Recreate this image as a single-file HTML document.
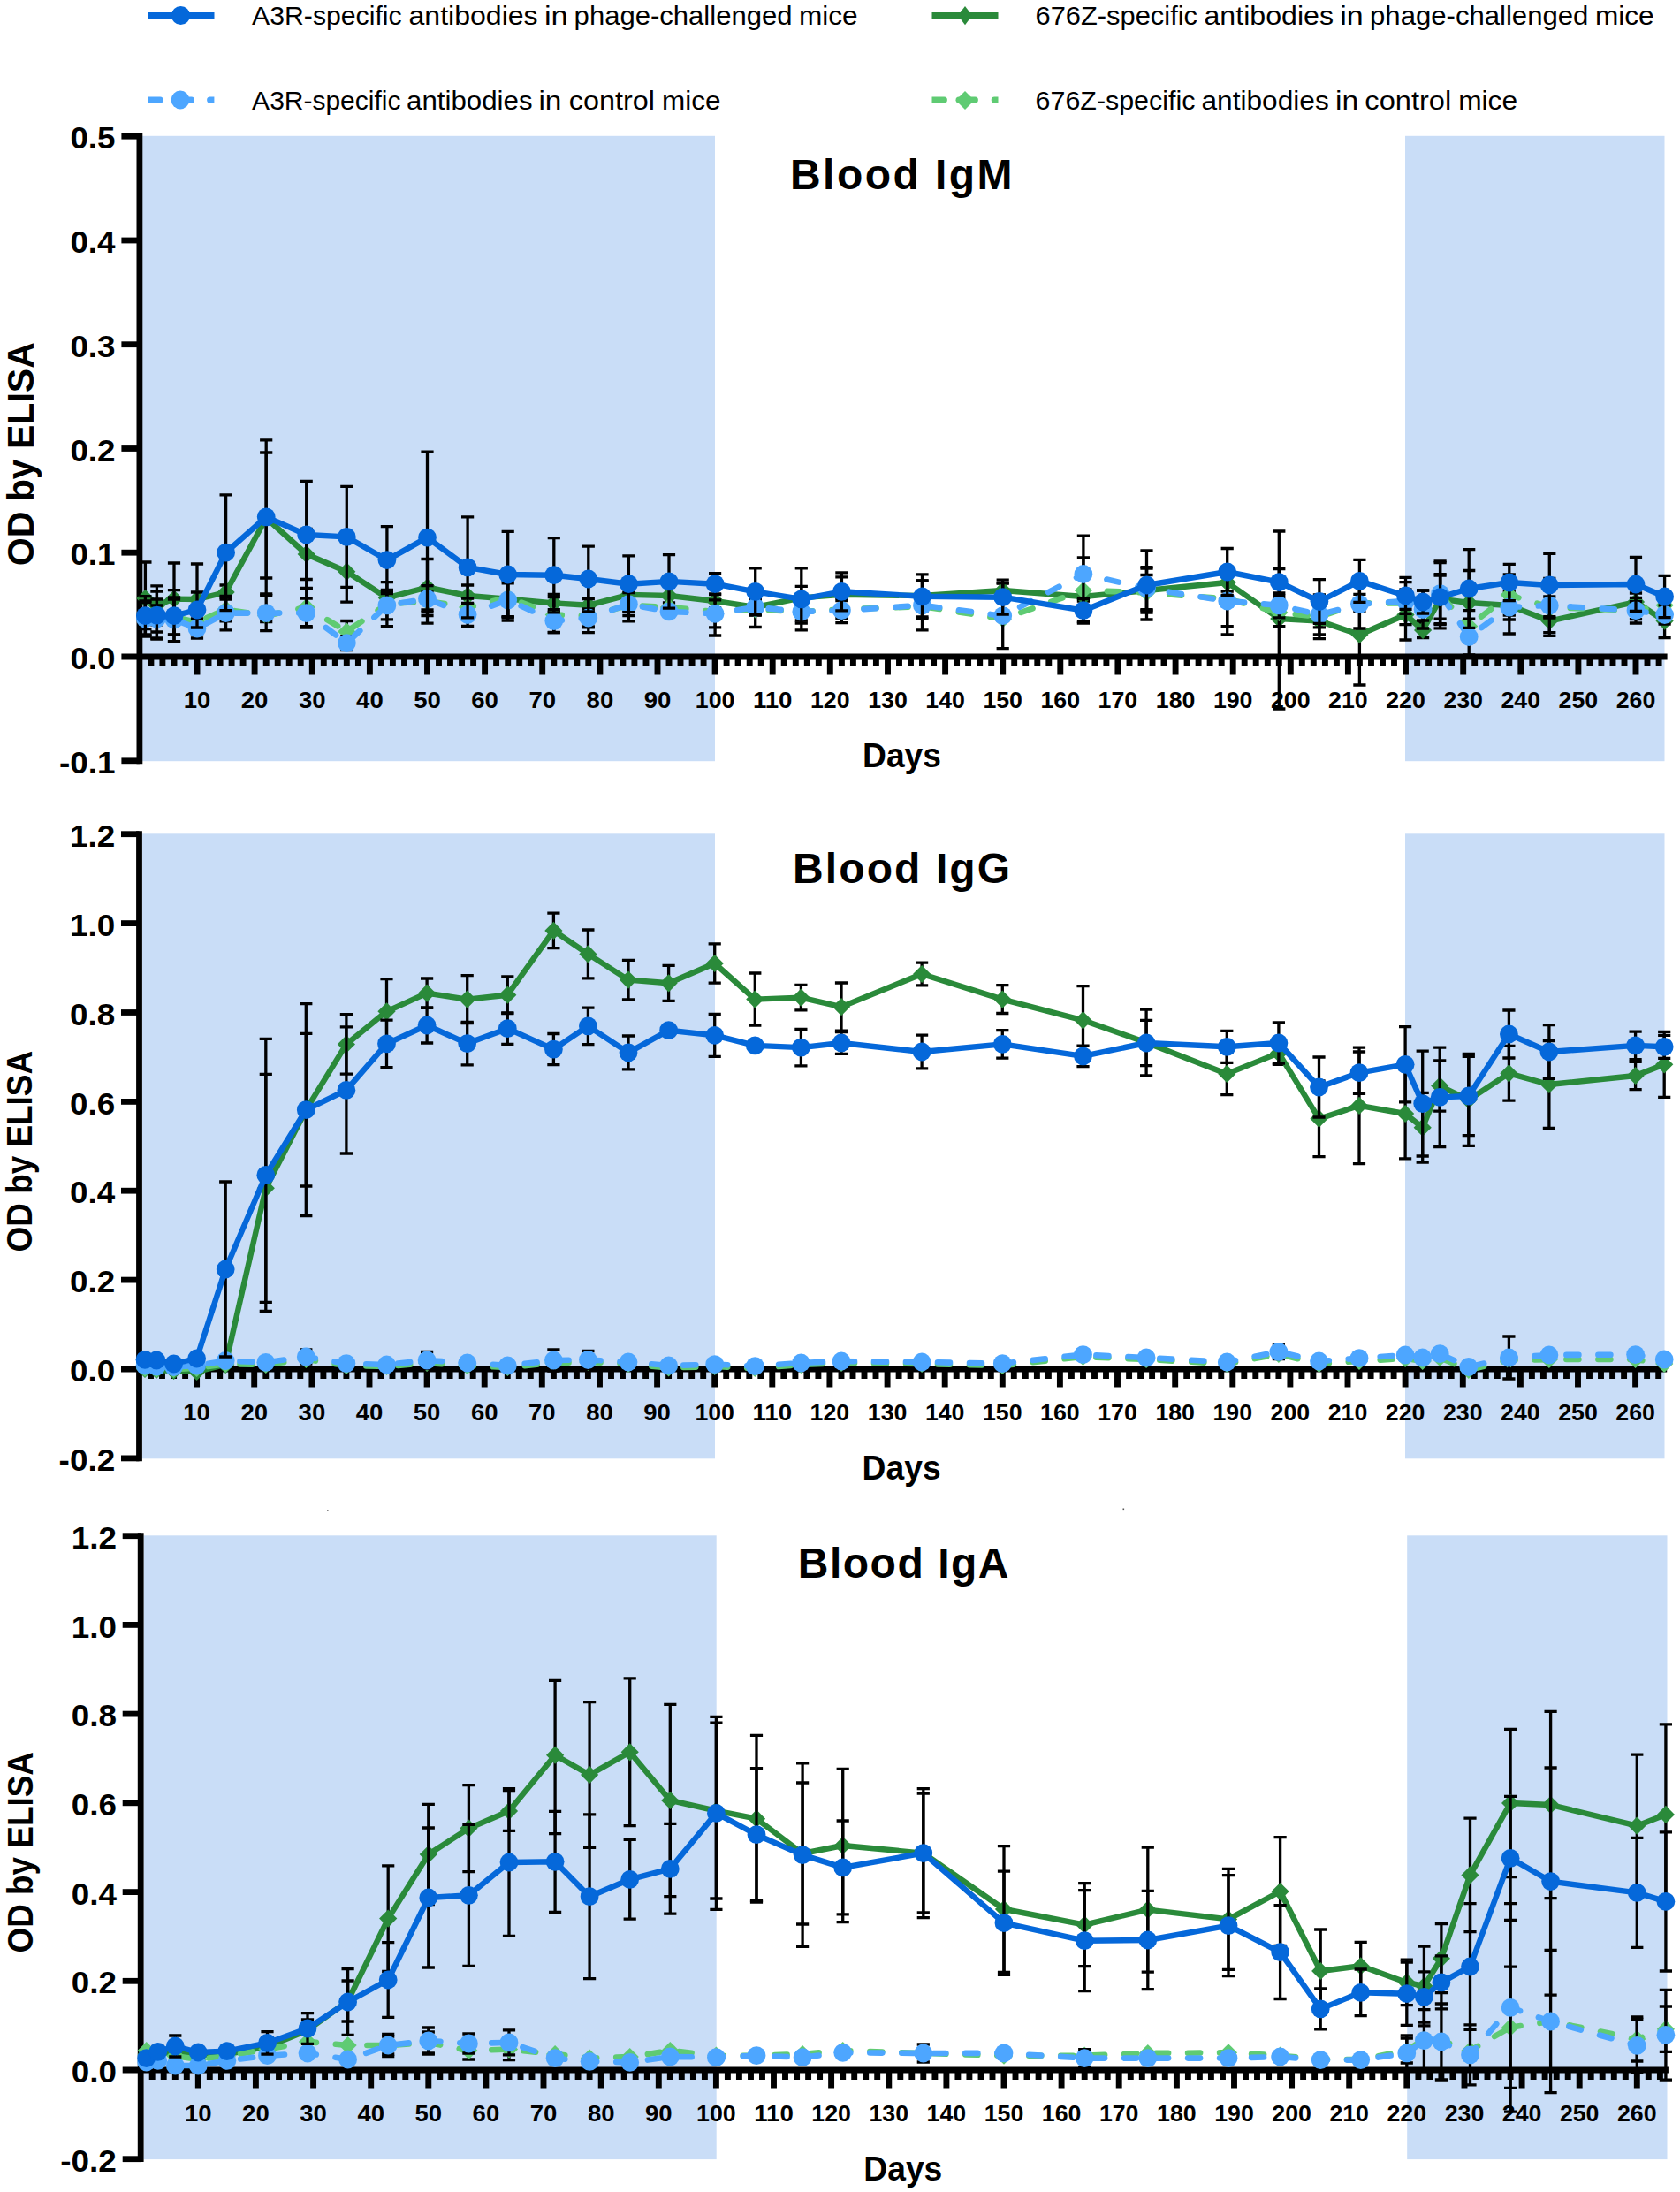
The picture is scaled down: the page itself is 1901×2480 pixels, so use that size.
<!DOCTYPE html>
<html lang="en"><head><meta charset="utf-8"><title>Blood IgM, IgG and IgA</title><style>html,body{margin:0;padding:0;background:#fff}svg{display:block}</style></head><body>
<svg width="1901" height="2480" viewBox="0 0 1901 2480">
<rect width="1901" height="2480" fill="#fff"/>
<line x1="167" y1="17.5" x2="242.5" y2="17.5" stroke="#0568da" stroke-width="7"/>
<circle cx="204.5" cy="17.5" r="10.5" fill="#0568da"/>
<clipPath id="lc1"><rect x="167" y="100" width="75.4" height="26"/></clipPath>
<path clip-path="url(#lc1)" d="M160 113H181.2M198 113H216.6M237.6 113H260" stroke="#4da6ff" stroke-width="7" stroke-linecap="round"/>
<circle cx="204" cy="113" r="10.4" fill="#4da6ff"/>
<line x1="1054.5" y1="17.5" x2="1129.5" y2="17.5" stroke="#2a8a3a" stroke-width="7"/>
<path d="M1092 7L1100 17.6L1092 28.2L1084 17.6Z" fill="#2a8a3a"/>
<clipPath id="lc2"><rect x="1054.5" y="100" width="75" height="26"/></clipPath>
<path clip-path="url(#lc2)" d="M1047 113H1068.4M1085 113H1103.4M1125.2 113H1150" stroke="#5fcb73" stroke-width="7" stroke-linecap="round"/>
<path d="M1092 102.9L1102.5 113.4L1092 123.9L1081.5 113.4Z" fill="#5fcb73"/>
<text x="285.1" y="27.5" font-family="Liberation Sans, sans-serif" font-size="28.8" textLength="169.53" lengthAdjust="spacingAndGlyphs">A3R-specific</text>
<text x="462.51" y="27.5" font-family="Liberation Sans, sans-serif" font-size="28.8" textLength="146.15" lengthAdjust="spacingAndGlyphs">antibodies</text>
<text x="615.91" y="27.5" font-family="Liberation Sans, sans-serif" font-size="28.8" textLength="26.77" lengthAdjust="spacingAndGlyphs">in</text>
<text x="649.62" y="27.5" font-family="Liberation Sans, sans-serif" font-size="28.8" textLength="246.88" lengthAdjust="spacingAndGlyphs">phage-challenged</text>
<text x="903.93" y="27.5" font-family="Liberation Sans, sans-serif" font-size="28.8" textLength="66.76" lengthAdjust="spacingAndGlyphs">mice</text>
<text x="285.13" y="123.5" font-family="Liberation Sans, sans-serif" font-size="28.8" textLength="168.32" lengthAdjust="spacingAndGlyphs">A3R-specific</text>
<text x="460.13" y="123.5" font-family="Liberation Sans, sans-serif" font-size="28.8" textLength="142.44" lengthAdjust="spacingAndGlyphs">antibodies</text>
<text x="609.43" y="123.5" font-family="Liberation Sans, sans-serif" font-size="28.8" textLength="26.06" lengthAdjust="spacingAndGlyphs">in</text>
<text x="643.88" y="123.5" font-family="Liberation Sans, sans-serif" font-size="28.8" textLength="97.13" lengthAdjust="spacingAndGlyphs">control</text>
<text x="749" y="123.5" font-family="Liberation Sans, sans-serif" font-size="28.8" textLength="66.43" lengthAdjust="spacingAndGlyphs">mice</text>
<text x="1171.52" y="27.5" font-family="Liberation Sans, sans-serif" font-size="28.8" textLength="183.47" lengthAdjust="spacingAndGlyphs">676Z-specific</text>
<text x="1362.49" y="27.5" font-family="Liberation Sans, sans-serif" font-size="28.8" textLength="146.51" lengthAdjust="spacingAndGlyphs">antibodies</text>
<text x="1516.3" y="27.5" font-family="Liberation Sans, sans-serif" font-size="28.8" textLength="26.43" lengthAdjust="spacingAndGlyphs">in</text>
<text x="1550.08" y="27.5" font-family="Liberation Sans, sans-serif" font-size="28.8" textLength="247.27" lengthAdjust="spacingAndGlyphs">phage-challenged</text>
<text x="1804.93" y="27.5" font-family="Liberation Sans, sans-serif" font-size="28.8" textLength="66.76" lengthAdjust="spacingAndGlyphs">mice</text>
<text x="1171.63" y="123.5" font-family="Liberation Sans, sans-serif" font-size="28.8" textLength="180.74" lengthAdjust="spacingAndGlyphs">676Z-specific</text>
<text x="1359.5" y="123.5" font-family="Liberation Sans, sans-serif" font-size="28.8" textLength="144.28" lengthAdjust="spacingAndGlyphs">antibodies</text>
<text x="1510.95" y="123.5" font-family="Liberation Sans, sans-serif" font-size="28.8" textLength="26.22" lengthAdjust="spacingAndGlyphs">in</text>
<text x="1544.38" y="123.5" font-family="Liberation Sans, sans-serif" font-size="28.8" textLength="97.85" lengthAdjust="spacingAndGlyphs">control</text>
<text x="1650.2" y="123.5" font-family="Liberation Sans, sans-serif" font-size="28.8" textLength="66.82" lengthAdjust="spacingAndGlyphs">mice</text>
<rect x="161" y="153.8" width="648" height="707.4" fill="#c9ddf7"/>
<rect x="1590" y="153.8" width="293.5" height="707.4" fill="#c9ddf7"/>
<text x="894" y="214" font-family="Liberation Sans, sans-serif" font-weight="bold" font-size="48" textLength="251.5" lengthAdjust="spacing">Blood IgM</text>
<line x1="157.9" y1="150.8" x2="157.9" y2="864.2" stroke="#000" stroke-width="6.8"/>
<line x1="137.4" y1="743" x2="1886.6" y2="743" stroke="#000" stroke-width="6.9"/>
<line x1="137.4" y1="154.2" x2="157.9" y2="154.2" stroke="#000" stroke-width="6.8"/>
<text x="130.6" y="168.3" font-family="Liberation Sans, sans-serif" font-weight="bold" font-size="35.5" text-anchor="end" textLength="51.2" lengthAdjust="spacingAndGlyphs">0.5</text>
<line x1="137.4" y1="272" x2="157.9" y2="272" stroke="#000" stroke-width="6.8"/>
<text x="130.6" y="286.1" font-family="Liberation Sans, sans-serif" font-weight="bold" font-size="35.5" text-anchor="end" textLength="51.2" lengthAdjust="spacingAndGlyphs">0.4</text>
<line x1="137.4" y1="389.7" x2="157.9" y2="389.7" stroke="#000" stroke-width="6.8"/>
<text x="130.6" y="403.8" font-family="Liberation Sans, sans-serif" font-weight="bold" font-size="35.5" text-anchor="end" textLength="51.2" lengthAdjust="spacingAndGlyphs">0.3</text>
<line x1="137.4" y1="507.5" x2="157.9" y2="507.5" stroke="#000" stroke-width="6.8"/>
<text x="130.6" y="521.6" font-family="Liberation Sans, sans-serif" font-weight="bold" font-size="35.5" text-anchor="end" textLength="51.2" lengthAdjust="spacingAndGlyphs">0.2</text>
<line x1="137.4" y1="625.2" x2="157.9" y2="625.2" stroke="#000" stroke-width="6.8"/>
<text x="130.6" y="639.3" font-family="Liberation Sans, sans-serif" font-weight="bold" font-size="35.5" text-anchor="end" textLength="51.2" lengthAdjust="spacingAndGlyphs">0.1</text>
<text x="130.6" y="757.1" font-family="Liberation Sans, sans-serif" font-weight="bold" font-size="35.5" text-anchor="end" textLength="51.2" lengthAdjust="spacingAndGlyphs">0.0</text>
<line x1="137.4" y1="860.8" x2="157.9" y2="860.8" stroke="#000" stroke-width="6.8"/>
<text x="130.6" y="874.9" font-family="Liberation Sans, sans-serif" font-weight="bold" font-size="35.5" text-anchor="end" textLength="63.6" lengthAdjust="spacingAndGlyphs">-0.1</text>
<path d="M170.9 743v11M183.9 743v11M197 743v11M210 743v11M236 743v11M249.1 743v11M262.1 743v11M275.1 743v11M301.2 743v11M314.2 743v11M327.2 743v11M340.2 743v11M366.3 743v11M379.3 743v11M392.3 743v11M405.4 743v11M431.4 743v11M444.4 743v11M457.5 743v11M470.5 743v11M496.5 743v11M509.5 743v11M522.6 743v11M535.6 743v11M561.6 743v11M574.7 743v11M587.7 743v11M600.7 743v11M626.8 743v11M639.8 743v11M652.8 743v11M665.8 743v11M691.9 743v11M704.9 743v11M717.9 743v11M731 743v11M757 743v11M770 743v11M783.1 743v11M796.1 743v11M822.1 743v11M835.1 743v11M848.2 743v11M861.2 743v11M887.2 743v11M900.3 743v11M913.3 743v11M926.3 743v11M952.4 743v11M965.4 743v11M978.4 743v11M991.4 743v11M1017.5 743v11M1030.5 743v11M1043.5 743v11M1056.6 743v11M1082.6 743v11M1095.6 743v11M1108.7 743v11M1121.7 743v11M1147.7 743v11M1160.7 743v11M1173.8 743v11M1186.8 743v11M1212.8 743v11M1225.9 743v11M1238.9 743v11M1251.9 743v11M1278 743v11M1291 743v11M1304 743v11M1317 743v11M1343.1 743v11M1356.1 743v11M1369.1 743v11M1382.2 743v11M1408.2 743v11M1421.2 743v11M1434.3 743v11M1447.3 743v11M1473.3 743v11M1486.3 743v11M1499.4 743v11M1512.4 743v11M1538.4 743v11M1551.5 743v11M1564.5 743v11M1577.5 743v11M1603.6 743v11M1616.6 743v11M1629.6 743v11M1642.6 743v11M1668.7 743v11M1681.7 743v11M1694.7 743v11M1707.8 743v11M1733.8 743v11M1746.8 743v11M1759.9 743v11M1772.9 743v11M1798.9 743v11M1811.9 743v11M1825 743v11M1838 743v11M1864 743v11M1877.1 743v11" stroke="#000" stroke-width="6.9" fill="none"/>
<path d="M223 743v20.4M288.1 743v20.4M353.3 743v20.4M418.4 743v20.4M483.5 743v20.4M548.6 743v20.4M613.7 743v20.4M678.9 743v20.4M744 743v20.4M809.1 743v20.4M874.2 743v20.4M939.3 743v20.4M1004.5 743v20.4M1069.6 743v20.4M1134.7 743v20.4M1199.8 743v20.4M1264.9 743v20.4M1330.1 743v20.4M1395.2 743v20.4M1460.3 743v20.4M1525.4 743v20.4M1590.5 743v20.4M1655.7 743v20.4M1720.8 743v20.4M1785.9 743v20.4M1851 743v20.4" stroke="#000" stroke-width="6.9" fill="none"/>
<text x="223" y="801.2" font-family="Liberation Sans, sans-serif" font-weight="bold" font-size="25.6" text-anchor="middle" textLength="30.6" lengthAdjust="spacingAndGlyphs">10</text>
<text x="288.1" y="801.2" font-family="Liberation Sans, sans-serif" font-weight="bold" font-size="25.6" text-anchor="middle" textLength="30.6" lengthAdjust="spacingAndGlyphs">20</text>
<text x="353.3" y="801.2" font-family="Liberation Sans, sans-serif" font-weight="bold" font-size="25.6" text-anchor="middle" textLength="30.6" lengthAdjust="spacingAndGlyphs">30</text>
<text x="418.4" y="801.2" font-family="Liberation Sans, sans-serif" font-weight="bold" font-size="25.6" text-anchor="middle" textLength="30.6" lengthAdjust="spacingAndGlyphs">40</text>
<text x="483.5" y="801.2" font-family="Liberation Sans, sans-serif" font-weight="bold" font-size="25.6" text-anchor="middle" textLength="30.6" lengthAdjust="spacingAndGlyphs">50</text>
<text x="548.6" y="801.2" font-family="Liberation Sans, sans-serif" font-weight="bold" font-size="25.6" text-anchor="middle" textLength="30.6" lengthAdjust="spacingAndGlyphs">60</text>
<text x="613.7" y="801.2" font-family="Liberation Sans, sans-serif" font-weight="bold" font-size="25.6" text-anchor="middle" textLength="30.6" lengthAdjust="spacingAndGlyphs">70</text>
<text x="678.9" y="801.2" font-family="Liberation Sans, sans-serif" font-weight="bold" font-size="25.6" text-anchor="middle" textLength="30.6" lengthAdjust="spacingAndGlyphs">80</text>
<text x="744" y="801.2" font-family="Liberation Sans, sans-serif" font-weight="bold" font-size="25.6" text-anchor="middle" textLength="30.6" lengthAdjust="spacingAndGlyphs">90</text>
<text x="809.1" y="801.2" font-family="Liberation Sans, sans-serif" font-weight="bold" font-size="25.6" text-anchor="middle" textLength="44.6" lengthAdjust="spacingAndGlyphs">100</text>
<text x="874.2" y="801.2" font-family="Liberation Sans, sans-serif" font-weight="bold" font-size="25.6" text-anchor="middle" textLength="44.6" lengthAdjust="spacingAndGlyphs">110</text>
<text x="939.3" y="801.2" font-family="Liberation Sans, sans-serif" font-weight="bold" font-size="25.6" text-anchor="middle" textLength="44.6" lengthAdjust="spacingAndGlyphs">120</text>
<text x="1004.5" y="801.2" font-family="Liberation Sans, sans-serif" font-weight="bold" font-size="25.6" text-anchor="middle" textLength="44.6" lengthAdjust="spacingAndGlyphs">130</text>
<text x="1069.6" y="801.2" font-family="Liberation Sans, sans-serif" font-weight="bold" font-size="25.6" text-anchor="middle" textLength="44.6" lengthAdjust="spacingAndGlyphs">140</text>
<text x="1134.7" y="801.2" font-family="Liberation Sans, sans-serif" font-weight="bold" font-size="25.6" text-anchor="middle" textLength="44.6" lengthAdjust="spacingAndGlyphs">150</text>
<text x="1199.8" y="801.2" font-family="Liberation Sans, sans-serif" font-weight="bold" font-size="25.6" text-anchor="middle" textLength="44.6" lengthAdjust="spacingAndGlyphs">160</text>
<text x="1264.9" y="801.2" font-family="Liberation Sans, sans-serif" font-weight="bold" font-size="25.6" text-anchor="middle" textLength="44.6" lengthAdjust="spacingAndGlyphs">170</text>
<text x="1330.1" y="801.2" font-family="Liberation Sans, sans-serif" font-weight="bold" font-size="25.6" text-anchor="middle" textLength="44.6" lengthAdjust="spacingAndGlyphs">180</text>
<text x="1395.2" y="801.2" font-family="Liberation Sans, sans-serif" font-weight="bold" font-size="25.6" text-anchor="middle" textLength="44.6" lengthAdjust="spacingAndGlyphs">190</text>
<text x="1460.3" y="801.2" font-family="Liberation Sans, sans-serif" font-weight="bold" font-size="25.6" text-anchor="middle" textLength="44.6" lengthAdjust="spacingAndGlyphs">200</text>
<text x="1525.4" y="801.2" font-family="Liberation Sans, sans-serif" font-weight="bold" font-size="25.6" text-anchor="middle" textLength="44.6" lengthAdjust="spacingAndGlyphs">210</text>
<text x="1590.5" y="801.2" font-family="Liberation Sans, sans-serif" font-weight="bold" font-size="25.6" text-anchor="middle" textLength="44.6" lengthAdjust="spacingAndGlyphs">220</text>
<text x="1655.7" y="801.2" font-family="Liberation Sans, sans-serif" font-weight="bold" font-size="25.6" text-anchor="middle" textLength="44.6" lengthAdjust="spacingAndGlyphs">230</text>
<text x="1720.8" y="801.2" font-family="Liberation Sans, sans-serif" font-weight="bold" font-size="25.6" text-anchor="middle" textLength="44.6" lengthAdjust="spacingAndGlyphs">240</text>
<text x="1785.9" y="801.2" font-family="Liberation Sans, sans-serif" font-weight="bold" font-size="25.6" text-anchor="middle" textLength="44.6" lengthAdjust="spacingAndGlyphs">250</text>
<text x="1851" y="801.2" font-family="Liberation Sans, sans-serif" font-weight="bold" font-size="25.6" text-anchor="middle" textLength="44.6" lengthAdjust="spacingAndGlyphs">260</text>
<text x="1020.5" y="868.2" font-family="Liberation Sans, sans-serif" font-weight="bold" font-size="39" text-anchor="middle" textLength="89" lengthAdjust="spacingAndGlyphs">Days</text>
<text transform="translate(37.7 513.7) rotate(-90)" font-family="Liberation Sans, sans-serif" font-weight="bold" font-size="42.8" text-anchor="middle" textLength="253" lengthAdjust="spacingAndGlyphs">OD by ELISA</text>
<path d="M164.4 636V718M157.3 636h14.2M157.3 718h14.2M177.4 662.8V706.8M170.3 662.8h14.2M170.3 706.8h14.2M197 637V718.2M189.9 637h14.2M189.9 718.2h14.2M223 638V718M215.9 638h14.2M215.9 718h14.2M255.6 662V678M248.5 662h14.2M248.5 678h14.2M301.2 512V654M294.1 512h14.2M294.1 654h14.2M346.7 598.5V655.5M339.6 598.5h14.2M339.6 655.5h14.2M392.3 612.2V681.2M385.2 612.2h14.2M385.2 681.2h14.2M437.9 667.4V685.4M430.8 667.4h14.2M430.8 685.4h14.2M483.5 632.5V696.5M476.4 632.5h14.2M476.4 696.5h14.2M529.1 662V686M522 662h14.2M522 686h14.2M574.7 657.6V697.6M567.6 657.6h14.2M567.6 697.6h14.2M626.8 672.4V692.4M619.7 672.4h14.2M619.7 692.4h14.2M665.8 659.8V709.8M658.7 659.8h14.2M658.7 709.8h14.2M711.4 654.9V690.9M704.3 654.9h14.2M704.3 690.9h14.2M757 661V687M749.9 661h14.2M749.9 687h14.2M809.1 672V688M802 672h14.2M802 688h14.2M854.7 678V696M847.6 678h14.2M847.6 696h14.2M906.8 663.4V689.4M899.7 663.4h14.2M899.7 689.4h14.2M952.4 652.9V692.9M945.3 652.9h14.2M945.3 692.9h14.2M1043.5 657V691M1036.4 657h14.2M1036.4 691h14.2M1134.7 660V676M1127.6 660h14.2M1127.6 676h14.2M1225.9 670V680M1218.8 670h14.2M1218.8 680h14.2M1297.5 643V693M1290.4 643h14.2M1290.4 693h14.2M1388.7 649V669M1381.6 649h14.2M1381.6 669h14.2M1447.3 601V802M1440.2 601h14.2M1440.2 802h14.2M1492.9 682.6V722.6M1485.8 682.6h14.2M1485.8 722.6h14.2M1538.4 661V775M1531.3 661h14.2M1531.3 775h14.2M1590.5 667V724M1583.4 667h14.2M1583.4 724h14.2M1610.1 704.3V721.7M1603 704.3h14.2M1603 721.7h14.2M1629.6 649.6V705.6M1622.5 649.6h14.2M1622.5 705.6h14.2M1662.2 645.5V718.5M1655.1 645.5h14.2M1655.1 718.5h14.2M1707.8 669V701M1700.7 669h14.2M1700.7 701h14.2M1753.3 685.9V719.3M1746.2 685.9h14.2M1746.2 719.3h14.2M1851 671V691M1843.9 671h14.2M1843.9 691h14.2M1883.6 683.6V721.6M1876.5 683.6h14.2M1876.5 721.6h14.2" stroke="#000" stroke-width="3.3" fill="none"/>
<polyline points="164.4,677 177.4,684.8 197,677.6 223,678 255.6,670 301.2,586 346.7,627 392.3,646.7 437.9,676.4 483.5,664.5 529.1,674 574.7,677.6 626.8,682.4 665.8,684.8 711.4,672.9 757,674 809.1,680 854.7,687 906.8,676.4 952.4,672.9 1043.5,674 1134.7,668 1225.9,675 1297.5,668 1388.7,659 1447.3,700 1492.9,702.6 1538.4,718 1590.5,695.5 1610.1,713 1629.6,677.6 1662.2,682 1707.8,685 1753.3,702.6 1851,681 1883.6,702.6" fill="none" stroke="#2a8a3a" stroke-width="6.4" stroke-linejoin="round"/>
<path d="M164.4 666.9L174.5 677L164.4 687.1L154.3 677Z" fill="#2a8a3a"/>
<path d="M177.4 674.7L187.5 684.8L177.4 694.9L167.3 684.8Z" fill="#2a8a3a"/>
<path d="M197 667.5L207.1 677.6L197 687.7L186.9 677.6Z" fill="#2a8a3a"/>
<path d="M223 667.9L233.1 678L223 688.1L212.9 678Z" fill="#2a8a3a"/>
<path d="M255.6 659.9L265.7 670L255.6 680.1L245.5 670Z" fill="#2a8a3a"/>
<path d="M301.2 575.9L311.3 586L301.2 596.1L291.1 586Z" fill="#2a8a3a"/>
<path d="M346.7 616.9L356.8 627L346.7 637.1L336.6 627Z" fill="#2a8a3a"/>
<path d="M392.3 636.6L402.4 646.7L392.3 656.8L382.2 646.7Z" fill="#2a8a3a"/>
<path d="M437.9 666.3L448 676.4L437.9 686.5L427.8 676.4Z" fill="#2a8a3a"/>
<path d="M483.5 654.4L493.6 664.5L483.5 674.6L473.4 664.5Z" fill="#2a8a3a"/>
<path d="M529.1 663.9L539.2 674L529.1 684.1L519 674Z" fill="#2a8a3a"/>
<path d="M574.7 667.5L584.8 677.6L574.7 687.7L564.6 677.6Z" fill="#2a8a3a"/>
<path d="M626.8 672.3L636.9 682.4L626.8 692.5L616.7 682.4Z" fill="#2a8a3a"/>
<path d="M665.8 674.7L675.9 684.8L665.8 694.9L655.7 684.8Z" fill="#2a8a3a"/>
<path d="M711.4 662.8L721.5 672.9L711.4 683L701.3 672.9Z" fill="#2a8a3a"/>
<path d="M757 663.9L767.1 674L757 684.1L746.9 674Z" fill="#2a8a3a"/>
<path d="M809.1 669.9L819.2 680L809.1 690.1L799 680Z" fill="#2a8a3a"/>
<path d="M854.7 676.9L864.8 687L854.7 697.1L844.6 687Z" fill="#2a8a3a"/>
<path d="M906.8 666.3L916.9 676.4L906.8 686.5L896.7 676.4Z" fill="#2a8a3a"/>
<path d="M952.4 662.8L962.5 672.9L952.4 683L942.3 672.9Z" fill="#2a8a3a"/>
<path d="M1043.5 663.9L1053.6 674L1043.5 684.1L1033.4 674Z" fill="#2a8a3a"/>
<path d="M1134.7 657.9L1144.8 668L1134.7 678.1L1124.6 668Z" fill="#2a8a3a"/>
<path d="M1225.9 664.9L1236 675L1225.9 685.1L1215.8 675Z" fill="#2a8a3a"/>
<path d="M1297.5 657.9L1307.6 668L1297.5 678.1L1287.4 668Z" fill="#2a8a3a"/>
<path d="M1388.7 648.9L1398.8 659L1388.7 669.1L1378.6 659Z" fill="#2a8a3a"/>
<path d="M1447.3 689.9L1457.4 700L1447.3 710.1L1437.2 700Z" fill="#2a8a3a"/>
<path d="M1492.9 692.5L1503 702.6L1492.9 712.7L1482.8 702.6Z" fill="#2a8a3a"/>
<path d="M1538.4 707.9L1548.5 718L1538.4 728.1L1528.3 718Z" fill="#2a8a3a"/>
<path d="M1590.5 685.4L1600.6 695.5L1590.5 705.6L1580.4 695.5Z" fill="#2a8a3a"/>
<path d="M1610.1 702.9L1620.2 713L1610.1 723.1L1600 713Z" fill="#2a8a3a"/>
<path d="M1629.6 667.5L1639.7 677.6L1629.6 687.7L1619.5 677.6Z" fill="#2a8a3a"/>
<path d="M1662.2 671.9L1672.3 682L1662.2 692.1L1652.1 682Z" fill="#2a8a3a"/>
<path d="M1707.8 674.9L1717.9 685L1707.8 695.1L1697.7 685Z" fill="#2a8a3a"/>
<path d="M1753.3 692.5L1763.4 702.6L1753.3 712.7L1743.2 702.6Z" fill="#2a8a3a"/>
<path d="M1851 670.9L1861.1 681L1851 691.1L1840.9 681Z" fill="#2a8a3a"/>
<path d="M1883.6 692.5L1893.7 702.6L1883.6 712.7L1873.5 702.6Z" fill="#2a8a3a"/>
<path d="M164.4 681.7V711.7M157.3 681.7h14.2M157.3 711.7h14.2M177.4 685V715M170.3 685h14.2M170.3 715h14.2M197 678V718M189.9 678h14.2M189.9 718h14.2M223 692V716M215.9 692h14.2M215.9 716h14.2M255.6 676.1V702.9M248.5 676.1h14.2M248.5 702.9h14.2M301.2 689.7V703.7M294.1 689.7h14.2M294.1 703.7h14.2M346.7 665.4V708.6M339.6 665.4h14.2M339.6 708.6h14.2M392.3 702.5V726.5M385.2 702.5h14.2M385.2 726.5h14.2M437.9 658.6V708.6M430.8 658.6h14.2M430.8 708.6h14.2M483.5 670V690M476.4 670h14.2M476.4 690h14.2M529.1 677V697M522 677h14.2M522 697h14.2M574.7 650V702M567.6 650h14.2M567.6 702h14.2M626.8 675.5V715.5M619.7 675.5h14.2M619.7 715.5h14.2M665.8 677.7V715.7M658.7 677.7h14.2M658.7 715.7h14.2M711.4 666.8V702.8M704.3 666.8h14.2M704.3 702.8h14.2M757 682V692M749.9 682h14.2M749.9 692h14.2M809.1 665V719M802 665h14.2M802 719h14.2M854.7 669.5V709.5M847.6 669.5h14.2M847.6 709.5h14.2M906.8 682V702M899.7 682h14.2M899.7 702h14.2M952.4 679.5V699.5M945.3 679.5h14.2M945.3 699.5h14.2M1043.5 674V698M1036.4 674h14.2M1036.4 698h14.2M1225.9 631V705M1218.8 631h14.2M1218.8 705h14.2M1297.5 650.5V690.5M1290.4 650.5h14.2M1290.4 690.5h14.2M1388.7 646.6V708.6M1381.6 646.6h14.2M1381.6 708.6h14.2M1447.3 677.4V708.6M1440.2 677.4h14.2M1440.2 708.6h14.2M1492.9 685.9V709.9M1485.8 685.9h14.2M1485.8 709.9h14.2M1538.4 672.4V692.4M1531.3 672.4h14.2M1531.3 692.4h14.2M1590.5 670.4V694.4M1583.4 670.4h14.2M1583.4 694.4h14.2M1610.1 678V702M1603 678h14.2M1603 702h14.2M1629.6 634.9V710.9M1622.5 634.9h14.2M1622.5 710.9h14.2M1662.2 690.6V726.6M1655.1 690.6h14.2M1655.1 726.6h14.2M1707.8 650V696M1700.7 650h14.2M1700.7 696h14.2M1753.3 675V699M1746.2 675h14.2M1746.2 699h14.2M1851 680.7V700.7M1843.9 680.7h14.2M1843.9 700.7h14.2M1883.6 674.8V694.8M1876.5 674.8h14.2M1876.5 694.8h14.2" stroke="#000" stroke-width="3.3" fill="none"/>
<path d="M164.4 696.7L177.4 700L178.4 699.9M200.3 698.8L213.9 701.9M233.5 699.3L246.3 693.6M266 691.2L279.9 693.3M302.2 696.5L315.8 693.6M337.4 689L346.7 687L351.4 689.8M370.2 701.2L382.2 708.4M397.8 710.8L409.4 703M427.6 690.6L437.9 683.6M453.9 682.3L467.9 681.2M489.3 680.9L503.2 683M524.9 686.4L529.1 687L535.8 685.4M557.2 680.2L570.8 676.9M590 681.7L603.1 686.6M623.7 694.4L626.8 695.5L635.8 695.8M657.8 696.5L665.8 696.7L671.5 695.2M692.8 689.7L706.3 686.1M727.1 685.6L741.1 686.2M762.4 687.5L776.3 688.9M798.2 691L809.1 692L812.3 691.8M834.3 690.6L848.3 689.9M869.8 690.2L883.7 690.9M905.7 691.9L906.8 692L919.5 691.3M941.5 690.1L952.4 689.5L955.5 689.4M977.5 688.5L991.5 688M1013.5 687.2L1027.5 686.6M1049.3 686.9L1063.1 689M1084.8 692.4L1098.7 694.6M1120.4 698L1134.2 700.1M1155.3 692.9L1168.5 688.3M1189.2 680.9L1202.4 676.3M1223.2 668.9L1225.9 668L1231.1 668.2M1253 668.9L1267 669.4M1289 670.2L1297.5 670.5L1301.2 670.8M1323.2 672.5L1337.1 673.6M1359.1 675.3L1373 676.4M1394 679L1407.5 682.5M1428.8 688.1L1442.3 691.7M1465.8 695L1479.7 696.5M1500.3 695.4L1513.5 690.9M1534.4 683.8L1538.4 682.4L1549.2 682.4M1571.2 682.4L1585.2 682.4M1605.9 688.4L1610.1 690L1616.7 684.2M1632.5 676.1L1642 686.5M1656.8 702.7L1662.2 708.6M1676.1 697.7L1687.1 689.1M1704.5 675.6L1707.8 673L1718.4 676.3M1739.4 682.7L1752.8 686.8M1753.3 687L1754.8 687.1M1776.8 687.9L1790.8 688.4M1812.8 689.3L1826.8 689.8M1848.8 690.6L1851 690.7L1862.5 688.6" fill="none" stroke="#5fcb73" stroke-width="6.6" stroke-linejoin="round" stroke-linecap="round"/>
<path d="M164.4 686.6L174.5 696.7L164.4 706.8L154.3 696.7Z" fill="#5fcb73"/>
<path d="M177.4 689.9L187.5 700L177.4 710.1L167.3 700Z" fill="#5fcb73"/>
<path d="M197 687.9L207.1 698L197 708.1L186.9 698Z" fill="#5fcb73"/>
<path d="M223 693.9L233.1 704L223 714.1L212.9 704Z" fill="#5fcb73"/>
<path d="M255.6 679.4L265.7 689.5L255.6 699.6L245.5 689.5Z" fill="#5fcb73"/>
<path d="M301.2 686.6L311.3 696.7L301.2 706.8L291.1 696.7Z" fill="#5fcb73"/>
<path d="M346.7 676.9L356.8 687L346.7 697.1L336.6 687Z" fill="#5fcb73"/>
<path d="M392.3 704.4L402.4 714.5L392.3 724.6L382.2 714.5Z" fill="#5fcb73"/>
<path d="M437.9 673.5L448 683.6L437.9 693.7L427.8 683.6Z" fill="#5fcb73"/>
<path d="M483.5 669.9L493.6 680L483.5 690.1L473.4 680Z" fill="#5fcb73"/>
<path d="M529.1 676.9L539.2 687L529.1 697.1L519 687Z" fill="#5fcb73"/>
<path d="M574.7 665.9L584.8 676L574.7 686.1L564.6 676Z" fill="#5fcb73"/>
<path d="M626.8 685.4L636.9 695.5L626.8 705.6L616.7 695.5Z" fill="#5fcb73"/>
<path d="M665.8 686.6L675.9 696.7L665.8 706.8L655.7 696.7Z" fill="#5fcb73"/>
<path d="M711.4 674.7L721.5 684.8L711.4 694.9L701.3 684.8Z" fill="#5fcb73"/>
<path d="M757 676.9L767.1 687L757 697.1L746.9 687Z" fill="#5fcb73"/>
<path d="M809.1 681.9L819.2 692L809.1 702.1L799 692Z" fill="#5fcb73"/>
<path d="M854.7 679.4L864.8 689.5L854.7 699.6L844.6 689.5Z" fill="#5fcb73"/>
<path d="M906.8 681.9L916.9 692L906.8 702.1L896.7 692Z" fill="#5fcb73"/>
<path d="M952.4 679.4L962.5 689.5L952.4 699.6L942.3 689.5Z" fill="#5fcb73"/>
<path d="M1043.5 675.9L1053.6 686L1043.5 696.1L1033.4 686Z" fill="#5fcb73"/>
<path d="M1134.7 690.1L1144.8 700.2L1134.7 710.3L1124.6 700.2Z" fill="#5fcb73"/>
<path d="M1225.9 657.9L1236 668L1225.9 678.1L1215.8 668Z" fill="#5fcb73"/>
<path d="M1297.5 660.4L1307.6 670.5L1297.5 680.6L1287.4 670.5Z" fill="#5fcb73"/>
<path d="M1388.7 667.5L1398.8 677.6L1388.7 687.7L1378.6 677.6Z" fill="#5fcb73"/>
<path d="M1447.3 682.9L1457.4 693L1447.3 703.1L1437.2 693Z" fill="#5fcb73"/>
<path d="M1492.9 687.8L1503 697.9L1492.9 708L1482.8 697.9Z" fill="#5fcb73"/>
<path d="M1538.4 672.3L1548.5 682.4L1538.4 692.5L1528.3 682.4Z" fill="#5fcb73"/>
<path d="M1590.5 672.3L1600.6 682.4L1590.5 692.5L1580.4 682.4Z" fill="#5fcb73"/>
<path d="M1610.1 679.9L1620.2 690L1610.1 700.1L1600 690Z" fill="#5fcb73"/>
<path d="M1629.6 662.8L1639.7 672.9L1629.6 683L1619.5 672.9Z" fill="#5fcb73"/>
<path d="M1662.2 698.5L1672.3 708.6L1662.2 718.7L1652.1 708.6Z" fill="#5fcb73"/>
<path d="M1707.8 662.9L1717.9 673L1707.8 683.1L1697.7 673Z" fill="#5fcb73"/>
<path d="M1753.3 676.9L1763.4 687L1753.3 697.1L1743.2 687Z" fill="#5fcb73"/>
<path d="M1851 680.6L1861.1 690.7L1851 700.8L1840.9 690.7Z" fill="#5fcb73"/>
<path d="M1883.6 674.7L1893.7 684.8L1883.6 694.9L1873.5 684.8Z" fill="#5fcb73"/>
<path d="M164.4 680V720M157.3 680h14.2M157.3 720h14.2M177.4 678V722M170.3 678h14.2M170.3 722h14.2M197 676V726M189.9 676h14.2M189.9 726h14.2M223 700V722M215.9 700h14.2M215.9 722h14.2M255.6 674.3V712.9M248.5 674.3h14.2M248.5 712.9h14.2M301.2 673.6V713.6M294.1 673.6h14.2M294.1 713.6h14.2M346.7 677.1V710.1M339.6 677.1h14.2M339.6 710.1h14.2M392.3 719.6V735.6M385.2 719.6h14.2M385.2 735.6h14.2M437.9 668.8V700.8M430.8 668.8h14.2M430.8 700.8h14.2M483.5 662.6V692.6M476.4 662.6h14.2M476.4 692.6h14.2M529.1 682.5V708.5M522 682.5h14.2M522 708.5h14.2M574.7 659.8V697.8M567.6 659.8h14.2M567.6 697.8h14.2M626.8 689.6V715.6M619.7 689.6h14.2M619.7 715.6h14.2M665.8 689V709M658.7 689h14.2M658.7 709h14.2M711.4 670.6V696.6M704.3 670.6h14.2M704.3 696.6h14.2M757 686.9V696.9M749.9 686.9h14.2M749.9 696.9h14.2M809.1 678.8V709.8M802 678.8h14.2M802 709.8h14.2M854.7 678.5V695.5M847.6 678.5h14.2M847.6 695.5h14.2M906.8 679V705M899.7 679h14.2M899.7 705h14.2M952.4 676.7V704.7M945.3 676.7h14.2M945.3 704.7h14.2M1043.5 656.8V712.8M1036.4 656.8h14.2M1036.4 712.8h14.2M1134.7 659.7V733.7M1127.6 659.7h14.2M1127.6 733.7h14.2M1225.9 606.2V692.8M1218.8 606.2h14.2M1218.8 692.8h14.2M1297.5 641.7V689.7M1290.4 641.7h14.2M1290.4 689.7h14.2M1388.7 642V718M1381.6 642h14.2M1381.6 718h14.2M1447.3 670.8V698.8M1440.2 670.8h14.2M1440.2 698.8h14.2M1492.9 673V718M1485.8 673h14.2M1485.8 718h14.2M1538.4 656.2V711M1531.3 656.2h14.2M1531.3 711h14.2M1590.5 653.3V706.7M1583.4 653.3h14.2M1583.4 706.7h14.2M1610.1 668V711M1603 668h14.2M1603 711h14.2M1629.6 636.7V706.7M1622.5 636.7h14.2M1622.5 706.7h14.2M1662.2 700.2V740.8M1655.1 700.2h14.2M1655.1 740.8h14.2M1707.8 657V717M1700.7 657h14.2M1700.7 717h14.2M1753.3 654.3V715.7M1746.2 654.3h14.2M1746.2 715.7h14.2M1851 676.4V705M1843.9 676.4h14.2M1843.9 705h14.2M1883.6 684.8V706.2M1876.5 684.8h14.2M1876.5 706.2h14.2" stroke="#000" stroke-width="3.3" fill="none"/>
<path d="M164.4 700L177.4 700L178.4 700M200.2 702.2L213.2 707.2M233.2 705.6L245.5 699M266.2 693.6L280.2 693.6M302.2 693.6L316.2 693.6M338.2 693.6L346.7 693.6L351.1 696.8M368.7 710L380 718.4M397.1 723.1L407.3 713.5M423.4 698.5L433.6 688.9M453.8 682.3L467.6 680.1M489 679.8L502 684.9M522.5 692.9L529.1 695.5L535.6 693.1M556.2 685.6L569.4 680.7M589.6 685.6L602.3 691.4M622.3 700.6L626.8 702.6L635.8 701.8M657.7 699.7L665.8 699L671.4 697.1M692.2 690.1L705.5 685.6M726.9 686.4L740.7 688.9M762.4 692.1L776.4 692.8M798.4 693.8L809.1 694.3L812.3 693.8M834 690.3L847.9 688.1M869.7 688.4L883.6 689.8M905.5 691.9L906.8 692L919.5 691.6M941.5 691L952.4 690.7L955.5 690.5M977.5 689.1L991.4 688.2M1013.4 686.8L1027.4 685.8M1049.3 685.5L1063.2 687.4M1085 690.2L1098.9 692M1120.7 694.9L1134.5 696.7M1154.1 686.7L1166.5 680.2M1186.1 670.1L1198.5 663.7M1218 653.6L1225.9 649.5L1230.9 650.6M1252.4 655.5L1266 658.6M1287.5 663.4L1297.5 665.7L1301.2 666.3M1322.9 669.7L1336.8 671.9M1358.5 675.3L1372.3 677.4M1394.1 680.4L1408.1 681.6M1430 683.4L1443.9 684.5M1465.4 689.1L1479.1 692.3M1500.4 693.5L1514 690M1535.3 684.4L1538.4 683.6L1549.1 682.9M1571.1 681.3L1585.1 680.4M1605.4 687.2L1610.1 689.5L1616.6 683.6M1632 675.3L1639.8 687M1652 705.3L1659.8 716.9M1676.4 710L1687.7 701.7M1705.4 688.7L1707.8 687L1718.9 686.5M1740.8 685.5L1753.3 685L1754.8 685.1M1776.8 686.4L1790.8 687.2M1812.7 688.5L1826.7 689.3M1848.7 690.6L1851 690.7L1862.5 692.4" fill="none" stroke="#4da6ff" stroke-width="6.6" stroke-linejoin="round" stroke-linecap="round"/>
<circle cx="164.4" cy="700" r="10.4" fill="#4da6ff"/>
<circle cx="177.4" cy="700" r="10.4" fill="#4da6ff"/>
<circle cx="197" cy="701" r="10.4" fill="#4da6ff"/>
<circle cx="223" cy="711" r="10.4" fill="#4da6ff"/>
<circle cx="255.6" cy="693.6" r="10.4" fill="#4da6ff"/>
<circle cx="301.2" cy="693.6" r="10.4" fill="#4da6ff"/>
<circle cx="346.7" cy="693.6" r="10.4" fill="#4da6ff"/>
<circle cx="392.3" cy="727.6" r="10.4" fill="#4da6ff"/>
<circle cx="437.9" cy="684.8" r="10.4" fill="#4da6ff"/>
<circle cx="483.5" cy="677.6" r="10.4" fill="#4da6ff"/>
<circle cx="529.1" cy="695.5" r="10.4" fill="#4da6ff"/>
<circle cx="574.7" cy="678.8" r="10.4" fill="#4da6ff"/>
<circle cx="626.8" cy="702.6" r="10.4" fill="#4da6ff"/>
<circle cx="665.8" cy="699" r="10.4" fill="#4da6ff"/>
<circle cx="711.4" cy="683.6" r="10.4" fill="#4da6ff"/>
<circle cx="757" cy="691.9" r="10.4" fill="#4da6ff"/>
<circle cx="809.1" cy="694.3" r="10.4" fill="#4da6ff"/>
<circle cx="854.7" cy="687" r="10.4" fill="#4da6ff"/>
<circle cx="906.8" cy="692" r="10.4" fill="#4da6ff"/>
<circle cx="952.4" cy="690.7" r="10.4" fill="#4da6ff"/>
<circle cx="1043.5" cy="684.8" r="10.4" fill="#4da6ff"/>
<circle cx="1134.7" cy="696.7" r="10.4" fill="#4da6ff"/>
<circle cx="1225.9" cy="649.5" r="10.4" fill="#4da6ff"/>
<circle cx="1297.5" cy="665.7" r="10.4" fill="#4da6ff"/>
<circle cx="1388.7" cy="680" r="10.4" fill="#4da6ff"/>
<circle cx="1447.3" cy="684.8" r="10.4" fill="#4da6ff"/>
<circle cx="1492.9" cy="695.5" r="10.4" fill="#4da6ff"/>
<circle cx="1538.4" cy="683.6" r="10.4" fill="#4da6ff"/>
<circle cx="1590.5" cy="680" r="10.4" fill="#4da6ff"/>
<circle cx="1610.1" cy="689.5" r="10.4" fill="#4da6ff"/>
<circle cx="1629.6" cy="671.7" r="10.4" fill="#4da6ff"/>
<circle cx="1662.2" cy="720.5" r="10.4" fill="#4da6ff"/>
<circle cx="1707.8" cy="687" r="10.4" fill="#4da6ff"/>
<circle cx="1753.3" cy="685" r="10.4" fill="#4da6ff"/>
<circle cx="1851" cy="690.7" r="10.4" fill="#4da6ff"/>
<circle cx="1883.6" cy="695.5" r="10.4" fill="#4da6ff"/>
<path d="M164.4 674.7V718.7M157.3 674.7h14.2M157.3 718.7h14.2M177.4 669.2V723.2M170.3 669.2h14.2M170.3 723.2h14.2M197 667.7V725.7M189.9 667.7h14.2M189.9 725.7h14.2M223 670V710M215.9 670h14.2M215.9 710h14.2M255.6 559.8V690.6M248.5 559.8h14.2M248.5 690.6h14.2M301.2 497.8V671.8M294.1 497.8h14.2M294.1 671.8h14.2M346.7 544.3V665.7M339.6 544.3h14.2M339.6 665.7h14.2M392.3 550.4V664.4M385.2 550.4h14.2M385.2 664.4h14.2M437.9 595.6V671.6M430.8 595.6h14.2M430.8 671.6h14.2M483.5 511.1V705.1M476.4 511.1h14.2M476.4 705.1h14.2M529.1 584.9V698.9M522 584.9h14.2M522 698.9h14.2M574.7 601.4V698.6M567.6 601.4h14.2M567.6 698.6h14.2M626.8 608.6V692.8M619.7 608.6h14.2M619.7 692.8h14.2M665.8 618.1V691.9M658.7 618.1h14.2M658.7 691.9h14.2M711.4 628.8V692.6M704.3 628.8h14.2M704.3 692.6h14.2M757 627.6V688.2M749.9 627.6h14.2M749.9 688.2h14.2M809.1 648.7V672.7M802 648.7h14.2M802 672.7h14.2M854.7 642.9V695.7M847.6 642.9h14.2M847.6 695.7h14.2M906.8 642.9V712.9M899.7 642.9h14.2M899.7 712.9h14.2M952.4 647.8V690.8M945.3 647.8h14.2M945.3 690.8h14.2M1043.5 649.8V699.8M1036.4 649.8h14.2M1036.4 699.8h14.2M1134.7 656.2V695.2M1127.6 656.2h14.2M1127.6 695.2h14.2M1225.9 677.7V703.7M1218.8 677.7h14.2M1218.8 703.7h14.2M1297.5 623V701M1290.4 623h14.2M1290.4 701h14.2M1388.7 620.5V673.5M1381.6 620.5h14.2M1381.6 673.5h14.2M1447.3 643.6V673.6M1440.2 643.6h14.2M1440.2 673.6h14.2M1492.9 655.7V705.3M1485.8 655.7h14.2M1485.8 705.3h14.2M1538.4 633.4V681.4M1531.3 633.4h14.2M1531.3 681.4h14.2M1590.5 658.6V689.4M1583.4 658.6h14.2M1583.4 689.4h14.2M1610.1 668V694M1603 668h14.2M1603 694h14.2M1629.6 651.2V700.2M1622.5 651.2h14.2M1622.5 700.2h14.2M1662.2 621.7V710.3M1655.1 621.7h14.2M1655.1 710.3h14.2M1707.8 638.3V679.7M1700.7 638.3h14.2M1700.7 679.7h14.2M1753.3 626.4V697.6M1746.2 626.4h14.2M1746.2 697.6h14.2M1851 630.5V691.5M1843.9 630.5h14.2M1843.9 691.5h14.2M1883.6 651.4V698.6M1876.5 651.4h14.2M1876.5 698.6h14.2" stroke="#000" stroke-width="3.3" fill="none"/>
<polyline points="164.4,696.7 177.4,696.2 197,696.7 223,690 255.6,625.2 301.2,584.8 346.7,605 392.3,607.4 437.9,633.6 483.5,608.1 529.1,641.9 574.7,650 626.8,650.7 665.8,655 711.4,660.7 757,657.9 809.1,660.7 854.7,669.3 906.8,677.9 952.4,669.3 1043.5,674.8 1134.7,675.7 1225.9,690.7 1297.5,662 1388.7,647 1447.3,658.6 1492.9,680.5 1538.4,657.4 1590.5,674 1610.1,681 1629.6,675.7 1662.2,666 1707.8,659 1753.3,662 1851,661 1883.6,675" fill="none" stroke="#0568da" stroke-width="6.4" stroke-linejoin="round"/>
<circle cx="164.4" cy="696.7" r="10.4" fill="#0568da"/>
<circle cx="177.4" cy="696.2" r="10.4" fill="#0568da"/>
<circle cx="197" cy="696.7" r="10.4" fill="#0568da"/>
<circle cx="223" cy="690" r="10.4" fill="#0568da"/>
<circle cx="255.6" cy="625.2" r="10.4" fill="#0568da"/>
<circle cx="301.2" cy="584.8" r="10.4" fill="#0568da"/>
<circle cx="346.7" cy="605" r="10.4" fill="#0568da"/>
<circle cx="392.3" cy="607.4" r="10.4" fill="#0568da"/>
<circle cx="437.9" cy="633.6" r="10.4" fill="#0568da"/>
<circle cx="483.5" cy="608.1" r="10.4" fill="#0568da"/>
<circle cx="529.1" cy="641.9" r="10.4" fill="#0568da"/>
<circle cx="574.7" cy="650" r="10.4" fill="#0568da"/>
<circle cx="626.8" cy="650.7" r="10.4" fill="#0568da"/>
<circle cx="665.8" cy="655" r="10.4" fill="#0568da"/>
<circle cx="711.4" cy="660.7" r="10.4" fill="#0568da"/>
<circle cx="757" cy="657.9" r="10.4" fill="#0568da"/>
<circle cx="809.1" cy="660.7" r="10.4" fill="#0568da"/>
<circle cx="854.7" cy="669.3" r="10.4" fill="#0568da"/>
<circle cx="906.8" cy="677.9" r="10.4" fill="#0568da"/>
<circle cx="952.4" cy="669.3" r="10.4" fill="#0568da"/>
<circle cx="1043.5" cy="674.8" r="10.4" fill="#0568da"/>
<circle cx="1134.7" cy="675.7" r="10.4" fill="#0568da"/>
<circle cx="1225.9" cy="690.7" r="10.4" fill="#0568da"/>
<circle cx="1297.5" cy="662" r="10.4" fill="#0568da"/>
<circle cx="1388.7" cy="647" r="10.4" fill="#0568da"/>
<circle cx="1447.3" cy="658.6" r="10.4" fill="#0568da"/>
<circle cx="1492.9" cy="680.5" r="10.4" fill="#0568da"/>
<circle cx="1538.4" cy="657.4" r="10.4" fill="#0568da"/>
<circle cx="1590.5" cy="674" r="10.4" fill="#0568da"/>
<circle cx="1610.1" cy="681" r="10.4" fill="#0568da"/>
<circle cx="1629.6" cy="675.7" r="10.4" fill="#0568da"/>
<circle cx="1662.2" cy="666" r="10.4" fill="#0568da"/>
<circle cx="1707.8" cy="659" r="10.4" fill="#0568da"/>
<circle cx="1753.3" cy="662" r="10.4" fill="#0568da"/>
<circle cx="1851" cy="661" r="10.4" fill="#0568da"/>
<circle cx="1883.6" cy="675" r="10.4" fill="#0568da"/>
<rect x="161" y="943.3" width="648" height="707" fill="#c9ddf7"/>
<rect x="1590" y="943.3" width="293.5" height="707" fill="#c9ddf7"/>
<text x="897.1" y="999.2" font-family="Liberation Sans, sans-serif" font-weight="bold" font-size="48" textLength="246" lengthAdjust="spacing">Blood IgG</text>
<line x1="157.5" y1="940.3" x2="157.5" y2="1653.3" stroke="#000" stroke-width="6.8"/>
<line x1="137" y1="1549" x2="1886.2" y2="1549" stroke="#000" stroke-width="6.9"/>
<line x1="137" y1="943.7" x2="157.5" y2="943.7" stroke="#000" stroke-width="6.8"/>
<text x="130.2" y="957.8" font-family="Liberation Sans, sans-serif" font-weight="bold" font-size="35.5" text-anchor="end" textLength="51.2" lengthAdjust="spacingAndGlyphs">1.2</text>
<line x1="137" y1="1044.6" x2="157.5" y2="1044.6" stroke="#000" stroke-width="6.8"/>
<text x="130.2" y="1058.7" font-family="Liberation Sans, sans-serif" font-weight="bold" font-size="35.5" text-anchor="end" textLength="51.2" lengthAdjust="spacingAndGlyphs">1.0</text>
<line x1="137" y1="1145.5" x2="157.5" y2="1145.5" stroke="#000" stroke-width="6.8"/>
<text x="130.2" y="1159.6" font-family="Liberation Sans, sans-serif" font-weight="bold" font-size="35.5" text-anchor="end" textLength="51.2" lengthAdjust="spacingAndGlyphs">0.8</text>
<line x1="137" y1="1246.4" x2="157.5" y2="1246.4" stroke="#000" stroke-width="6.8"/>
<text x="130.2" y="1260.5" font-family="Liberation Sans, sans-serif" font-weight="bold" font-size="35.5" text-anchor="end" textLength="51.2" lengthAdjust="spacingAndGlyphs">0.6</text>
<line x1="137" y1="1347.2" x2="157.5" y2="1347.2" stroke="#000" stroke-width="6.8"/>
<text x="130.2" y="1361.3" font-family="Liberation Sans, sans-serif" font-weight="bold" font-size="35.5" text-anchor="end" textLength="51.2" lengthAdjust="spacingAndGlyphs">0.4</text>
<line x1="137" y1="1448.1" x2="157.5" y2="1448.1" stroke="#000" stroke-width="6.8"/>
<text x="130.2" y="1462.2" font-family="Liberation Sans, sans-serif" font-weight="bold" font-size="35.5" text-anchor="end" textLength="51.2" lengthAdjust="spacingAndGlyphs">0.2</text>
<text x="130.2" y="1563.1" font-family="Liberation Sans, sans-serif" font-weight="bold" font-size="35.5" text-anchor="end" textLength="51.2" lengthAdjust="spacingAndGlyphs">0.0</text>
<line x1="137" y1="1649.9" x2="157.5" y2="1649.9" stroke="#000" stroke-width="6.8"/>
<text x="130.2" y="1664" font-family="Liberation Sans, sans-serif" font-weight="bold" font-size="35.5" text-anchor="end" textLength="63.6" lengthAdjust="spacingAndGlyphs">-0.2</text>
<path d="M170.5 1549v11M183.5 1549v11M196.6 1549v11M209.6 1549v11M235.6 1549v11M248.7 1549v11M261.7 1549v11M274.7 1549v11M300.8 1549v11M313.8 1549v11M326.8 1549v11M339.8 1549v11M365.9 1549v11M378.9 1549v11M391.9 1549v11M405 1549v11M431 1549v11M444 1549v11M457.1 1549v11M470.1 1549v11M496.1 1549v11M509.1 1549v11M522.2 1549v11M535.2 1549v11M561.2 1549v11M574.3 1549v11M587.3 1549v11M600.3 1549v11M626.4 1549v11M639.4 1549v11M652.4 1549v11M665.4 1549v11M691.5 1549v11M704.5 1549v11M717.5 1549v11M730.6 1549v11M756.6 1549v11M769.6 1549v11M782.7 1549v11M795.7 1549v11M821.7 1549v11M834.7 1549v11M847.8 1549v11M860.8 1549v11M886.8 1549v11M899.9 1549v11M912.9 1549v11M925.9 1549v11M952 1549v11M965 1549v11M978 1549v11M991 1549v11M1017.1 1549v11M1030.1 1549v11M1043.1 1549v11M1056.2 1549v11M1082.2 1549v11M1095.2 1549v11M1108.3 1549v11M1121.3 1549v11M1147.3 1549v11M1160.3 1549v11M1173.4 1549v11M1186.4 1549v11M1212.4 1549v11M1225.5 1549v11M1238.5 1549v11M1251.5 1549v11M1277.6 1549v11M1290.6 1549v11M1303.6 1549v11M1316.6 1549v11M1342.7 1549v11M1355.7 1549v11M1368.7 1549v11M1381.8 1549v11M1407.8 1549v11M1420.8 1549v11M1433.9 1549v11M1446.9 1549v11M1472.9 1549v11M1485.9 1549v11M1499 1549v11M1512 1549v11M1538 1549v11M1551.1 1549v11M1564.1 1549v11M1577.1 1549v11M1603.2 1549v11M1616.2 1549v11M1629.2 1549v11M1642.2 1549v11M1668.3 1549v11M1681.3 1549v11M1694.3 1549v11M1707.4 1549v11M1733.4 1549v11M1746.4 1549v11M1759.5 1549v11M1772.5 1549v11M1798.5 1549v11M1811.5 1549v11M1824.6 1549v11M1837.6 1549v11M1863.6 1549v11M1876.7 1549v11" stroke="#000" stroke-width="6.9" fill="none"/>
<path d="M222.6 1549v20.4M287.7 1549v20.4M352.9 1549v20.4M418 1549v20.4M483.1 1549v20.4M548.2 1549v20.4M613.3 1549v20.4M678.5 1549v20.4M743.6 1549v20.4M808.7 1549v20.4M873.8 1549v20.4M938.9 1549v20.4M1004.1 1549v20.4M1069.2 1549v20.4M1134.3 1549v20.4M1199.4 1549v20.4M1264.5 1549v20.4M1329.7 1549v20.4M1394.8 1549v20.4M1459.9 1549v20.4M1525 1549v20.4M1590.1 1549v20.4M1655.3 1549v20.4M1720.4 1549v20.4M1785.5 1549v20.4M1850.6 1549v20.4" stroke="#000" stroke-width="6.9" fill="none"/>
<text x="222.6" y="1607.2" font-family="Liberation Sans, sans-serif" font-weight="bold" font-size="25.6" text-anchor="middle" textLength="30.6" lengthAdjust="spacingAndGlyphs">10</text>
<text x="287.7" y="1607.2" font-family="Liberation Sans, sans-serif" font-weight="bold" font-size="25.6" text-anchor="middle" textLength="30.6" lengthAdjust="spacingAndGlyphs">20</text>
<text x="352.9" y="1607.2" font-family="Liberation Sans, sans-serif" font-weight="bold" font-size="25.6" text-anchor="middle" textLength="30.6" lengthAdjust="spacingAndGlyphs">30</text>
<text x="418" y="1607.2" font-family="Liberation Sans, sans-serif" font-weight="bold" font-size="25.6" text-anchor="middle" textLength="30.6" lengthAdjust="spacingAndGlyphs">40</text>
<text x="483.1" y="1607.2" font-family="Liberation Sans, sans-serif" font-weight="bold" font-size="25.6" text-anchor="middle" textLength="30.6" lengthAdjust="spacingAndGlyphs">50</text>
<text x="548.2" y="1607.2" font-family="Liberation Sans, sans-serif" font-weight="bold" font-size="25.6" text-anchor="middle" textLength="30.6" lengthAdjust="spacingAndGlyphs">60</text>
<text x="613.3" y="1607.2" font-family="Liberation Sans, sans-serif" font-weight="bold" font-size="25.6" text-anchor="middle" textLength="30.6" lengthAdjust="spacingAndGlyphs">70</text>
<text x="678.5" y="1607.2" font-family="Liberation Sans, sans-serif" font-weight="bold" font-size="25.6" text-anchor="middle" textLength="30.6" lengthAdjust="spacingAndGlyphs">80</text>
<text x="743.6" y="1607.2" font-family="Liberation Sans, sans-serif" font-weight="bold" font-size="25.6" text-anchor="middle" textLength="30.6" lengthAdjust="spacingAndGlyphs">90</text>
<text x="808.7" y="1607.2" font-family="Liberation Sans, sans-serif" font-weight="bold" font-size="25.6" text-anchor="middle" textLength="44.6" lengthAdjust="spacingAndGlyphs">100</text>
<text x="873.8" y="1607.2" font-family="Liberation Sans, sans-serif" font-weight="bold" font-size="25.6" text-anchor="middle" textLength="44.6" lengthAdjust="spacingAndGlyphs">110</text>
<text x="938.9" y="1607.2" font-family="Liberation Sans, sans-serif" font-weight="bold" font-size="25.6" text-anchor="middle" textLength="44.6" lengthAdjust="spacingAndGlyphs">120</text>
<text x="1004.1" y="1607.2" font-family="Liberation Sans, sans-serif" font-weight="bold" font-size="25.6" text-anchor="middle" textLength="44.6" lengthAdjust="spacingAndGlyphs">130</text>
<text x="1069.2" y="1607.2" font-family="Liberation Sans, sans-serif" font-weight="bold" font-size="25.6" text-anchor="middle" textLength="44.6" lengthAdjust="spacingAndGlyphs">140</text>
<text x="1134.3" y="1607.2" font-family="Liberation Sans, sans-serif" font-weight="bold" font-size="25.6" text-anchor="middle" textLength="44.6" lengthAdjust="spacingAndGlyphs">150</text>
<text x="1199.4" y="1607.2" font-family="Liberation Sans, sans-serif" font-weight="bold" font-size="25.6" text-anchor="middle" textLength="44.6" lengthAdjust="spacingAndGlyphs">160</text>
<text x="1264.5" y="1607.2" font-family="Liberation Sans, sans-serif" font-weight="bold" font-size="25.6" text-anchor="middle" textLength="44.6" lengthAdjust="spacingAndGlyphs">170</text>
<text x="1329.7" y="1607.2" font-family="Liberation Sans, sans-serif" font-weight="bold" font-size="25.6" text-anchor="middle" textLength="44.6" lengthAdjust="spacingAndGlyphs">180</text>
<text x="1394.8" y="1607.2" font-family="Liberation Sans, sans-serif" font-weight="bold" font-size="25.6" text-anchor="middle" textLength="44.6" lengthAdjust="spacingAndGlyphs">190</text>
<text x="1459.9" y="1607.2" font-family="Liberation Sans, sans-serif" font-weight="bold" font-size="25.6" text-anchor="middle" textLength="44.6" lengthAdjust="spacingAndGlyphs">200</text>
<text x="1525" y="1607.2" font-family="Liberation Sans, sans-serif" font-weight="bold" font-size="25.6" text-anchor="middle" textLength="44.6" lengthAdjust="spacingAndGlyphs">210</text>
<text x="1590.1" y="1607.2" font-family="Liberation Sans, sans-serif" font-weight="bold" font-size="25.6" text-anchor="middle" textLength="44.6" lengthAdjust="spacingAndGlyphs">220</text>
<text x="1655.3" y="1607.2" font-family="Liberation Sans, sans-serif" font-weight="bold" font-size="25.6" text-anchor="middle" textLength="44.6" lengthAdjust="spacingAndGlyphs">230</text>
<text x="1720.4" y="1607.2" font-family="Liberation Sans, sans-serif" font-weight="bold" font-size="25.6" text-anchor="middle" textLength="44.6" lengthAdjust="spacingAndGlyphs">240</text>
<text x="1785.5" y="1607.2" font-family="Liberation Sans, sans-serif" font-weight="bold" font-size="25.6" text-anchor="middle" textLength="44.6" lengthAdjust="spacingAndGlyphs">250</text>
<text x="1850.6" y="1607.2" font-family="Liberation Sans, sans-serif" font-weight="bold" font-size="25.6" text-anchor="middle" textLength="44.6" lengthAdjust="spacingAndGlyphs">260</text>
<text x="1020.1" y="1674.2" font-family="Liberation Sans, sans-serif" font-weight="bold" font-size="39" text-anchor="middle" textLength="89" lengthAdjust="spacingAndGlyphs">Days</text>
<text transform="translate(35.9 1302.7) rotate(-90)" font-family="Liberation Sans, sans-serif" font-weight="bold" font-size="40.8" text-anchor="middle" textLength="227.5" lengthAdjust="spacingAndGlyphs">OD by ELISA</text>
<path d="M300.8 1215.3V1473.3M293.7 1215.3h14.2M293.7 1473.3h14.2M346.3 1169.4V1342M339.2 1169.4h14.2M339.2 1342h14.2M391.9 1147.7V1215.1M384.8 1147.7h14.2M384.8 1215.1h14.2M437.5 1107.7V1180.9M430.4 1107.7h14.2M430.4 1180.9h14.2M483.1 1107V1140.4M476 1107h14.2M476 1140.4h14.2M528.7 1103.7V1157.5M521.6 1103.7h14.2M521.6 1157.5h14.2M574.3 1104.9V1146.5M567.2 1104.9h14.2M567.2 1146.5h14.2M626.4 1033.2V1072.6M619.3 1033.2h14.2M619.3 1072.6h14.2M665.4 1052V1106.8M658.3 1052h14.2M658.3 1106.8h14.2M711 1086.3V1130.9M703.9 1086.3h14.2M703.9 1130.9h14.2M756.6 1092.3V1132.3M749.5 1092.3h14.2M749.5 1132.3h14.2M808.7 1067.9V1112.1M801.6 1067.9h14.2M801.6 1112.1h14.2M854.3 1101V1160.2M847.2 1101h14.2M847.2 1160.2h14.2M906.4 1114.3V1142.9M899.3 1114.3h14.2M899.3 1142.9h14.2M952 1112V1166.2M944.9 1112h14.2M944.9 1166.2h14.2M1043.1 1089.1V1114.9M1036 1089.1h14.2M1036 1114.9h14.2M1134.3 1114.7V1146.5M1127.2 1114.7h14.2M1127.2 1146.5h14.2M1225.5 1115.7V1192.9M1218.4 1115.7h14.2M1218.4 1192.9h14.2M1297.1 1142V1216.8M1290 1142h14.2M1290 1216.8h14.2M1388.3 1191.2V1238.6M1381.2 1191.2h14.2M1381.2 1238.6h14.2M1446.9 1178.4V1204.4M1439.8 1178.4h14.2M1439.8 1204.4h14.2M1492.5 1222.8V1308.6M1485.4 1222.8h14.2M1485.4 1308.6h14.2M1538 1185.2V1316.6M1530.9 1185.2h14.2M1530.9 1316.6h14.2M1590.1 1209.1V1310.9M1583 1209.1h14.2M1583 1310.9h14.2M1609.7 1236.3V1315.1M1602.6 1236.3h14.2M1602.6 1315.1h14.2M1629.2 1200V1257.2M1622.1 1200h14.2M1622.1 1257.2h14.2M1661.8 1192.3V1296.3M1654.7 1192.3h14.2M1654.7 1296.3h14.2M1707.4 1183.4V1245.2M1700.3 1183.4h14.2M1700.3 1245.2h14.2M1752.9 1177.6V1276.4M1745.8 1177.6h14.2M1745.8 1276.4h14.2M1850.6 1201.3V1232.7M1843.5 1201.3h14.2M1843.5 1232.7h14.2M1883.2 1167.3V1241.3M1876.1 1167.3h14.2M1876.1 1241.3h14.2" stroke="#000" stroke-width="3.3" fill="none"/>
<polyline points="164,1549 177,1550 196.6,1551 222.6,1552 255.2,1544 300.8,1344.3 346.3,1255.7 391.9,1181.4 437.5,1144.3 483.1,1123.7 528.7,1130.6 574.3,1125.7 626.4,1052.9 665.4,1079.4 711,1108.6 756.6,1112.3 808.7,1090 854.3,1130.6 906.4,1128.6 952,1139.1 1043.1,1102 1134.3,1130.6 1225.5,1154.3 1297.1,1179.4 1388.3,1214.9 1446.9,1191.4 1492.5,1265.7 1538,1250.9 1590.1,1260 1609.7,1275.7 1629.2,1228.6 1661.8,1244.3 1707.4,1214.3 1752.9,1227 1850.6,1217 1883.2,1204.3" fill="none" stroke="#2a8a3a" stroke-width="6.4" stroke-linejoin="round"/>
<path d="M164 1538.9L174.1 1549L164 1559.1L153.9 1549Z" fill="#2a8a3a"/>
<path d="M177 1539.9L187.1 1550L177 1560.1L166.9 1550Z" fill="#2a8a3a"/>
<path d="M196.6 1540.9L206.7 1551L196.6 1561.1L186.5 1551Z" fill="#2a8a3a"/>
<path d="M222.6 1541.9L232.7 1552L222.6 1562.1L212.5 1552Z" fill="#2a8a3a"/>
<path d="M255.2 1533.9L265.3 1544L255.2 1554.1L245.1 1544Z" fill="#2a8a3a"/>
<path d="M300.8 1334.2L310.9 1344.3L300.8 1354.4L290.7 1344.3Z" fill="#2a8a3a"/>
<path d="M346.3 1245.6L356.4 1255.7L346.3 1265.8L336.2 1255.7Z" fill="#2a8a3a"/>
<path d="M391.9 1171.3L402 1181.4L391.9 1191.5L381.8 1181.4Z" fill="#2a8a3a"/>
<path d="M437.5 1134.2L447.6 1144.3L437.5 1154.4L427.4 1144.3Z" fill="#2a8a3a"/>
<path d="M483.1 1113.6L493.2 1123.7L483.1 1133.8L473 1123.7Z" fill="#2a8a3a"/>
<path d="M528.7 1120.5L538.8 1130.6L528.7 1140.7L518.6 1130.6Z" fill="#2a8a3a"/>
<path d="M574.3 1115.6L584.4 1125.7L574.3 1135.8L564.2 1125.7Z" fill="#2a8a3a"/>
<path d="M626.4 1042.8L636.5 1052.9L626.4 1063L616.3 1052.9Z" fill="#2a8a3a"/>
<path d="M665.4 1069.3L675.5 1079.4L665.4 1089.5L655.3 1079.4Z" fill="#2a8a3a"/>
<path d="M711 1098.5L721.1 1108.6L711 1118.7L700.9 1108.6Z" fill="#2a8a3a"/>
<path d="M756.6 1102.2L766.7 1112.3L756.6 1122.4L746.5 1112.3Z" fill="#2a8a3a"/>
<path d="M808.7 1079.9L818.8 1090L808.7 1100.1L798.6 1090Z" fill="#2a8a3a"/>
<path d="M854.3 1120.5L864.4 1130.6L854.3 1140.7L844.2 1130.6Z" fill="#2a8a3a"/>
<path d="M906.4 1118.5L916.5 1128.6L906.4 1138.7L896.3 1128.6Z" fill="#2a8a3a"/>
<path d="M952 1129L962.1 1139.1L952 1149.2L941.9 1139.1Z" fill="#2a8a3a"/>
<path d="M1043.1 1091.9L1053.2 1102L1043.1 1112.1L1033 1102Z" fill="#2a8a3a"/>
<path d="M1134.3 1120.5L1144.4 1130.6L1134.3 1140.7L1124.2 1130.6Z" fill="#2a8a3a"/>
<path d="M1225.5 1144.2L1235.6 1154.3L1225.5 1164.4L1215.4 1154.3Z" fill="#2a8a3a"/>
<path d="M1297.1 1169.3L1307.2 1179.4L1297.1 1189.5L1287 1179.4Z" fill="#2a8a3a"/>
<path d="M1388.3 1204.8L1398.4 1214.9L1388.3 1225L1378.2 1214.9Z" fill="#2a8a3a"/>
<path d="M1446.9 1181.3L1457 1191.4L1446.9 1201.5L1436.8 1191.4Z" fill="#2a8a3a"/>
<path d="M1492.5 1255.6L1502.6 1265.7L1492.5 1275.8L1482.4 1265.7Z" fill="#2a8a3a"/>
<path d="M1538 1240.8L1548.1 1250.9L1538 1261L1527.9 1250.9Z" fill="#2a8a3a"/>
<path d="M1590.1 1249.9L1600.2 1260L1590.1 1270.1L1580 1260Z" fill="#2a8a3a"/>
<path d="M1609.7 1265.6L1619.8 1275.7L1609.7 1285.8L1599.6 1275.7Z" fill="#2a8a3a"/>
<path d="M1629.2 1218.5L1639.3 1228.6L1629.2 1238.7L1619.1 1228.6Z" fill="#2a8a3a"/>
<path d="M1661.8 1234.2L1671.9 1244.3L1661.8 1254.4L1651.7 1244.3Z" fill="#2a8a3a"/>
<path d="M1707.4 1204.2L1717.5 1214.3L1707.4 1224.4L1697.3 1214.3Z" fill="#2a8a3a"/>
<path d="M1752.9 1216.9L1763 1227L1752.9 1237.1L1742.8 1227Z" fill="#2a8a3a"/>
<path d="M1850.6 1206.9L1860.7 1217L1850.6 1227.1L1840.5 1217Z" fill="#2a8a3a"/>
<path d="M1883.2 1194.2L1893.3 1204.3L1883.2 1214.4L1873.1 1204.3Z" fill="#2a8a3a"/>
<path d="M164 1548L177 1549L178 1549M200 1548.9L214 1548.3M235.8 1546L249.6 1543.9M271.5 1543.4L285.5 1543.7M307.4 1543.1L321.2 1541.3M343.1 1538.4L346.3 1538L356.9 1539.6M378.6 1543L391.9 1545L392.3 1545M414.3 1545.5L428.3 1545.8M450.3 1544.9L464.2 1543.7M486 1542.2L500 1543.1M522 1544.6L528.7 1545L535.9 1545.3M557.9 1546.3L571.9 1546.9M593.8 1545.1L607.7 1543.8M629.5 1541.9L643.5 1541.6M665.5 1541L679.5 1541.6M701.5 1542.6L711 1543L715.4 1543.4M737.3 1545.6L751.2 1547M773.3 1547L787.3 1546.6M809.2 1546L823.2 1546.6M845.2 1547.6L854.3 1548L859.2 1547.6M881.1 1545.9L895.1 1544.9M917.1 1543.5L931 1542.9M953 1542L967 1542.2M989 1542.4L1003 1542.6M1025 1542.8L1039 1543M1061 1543.4L1075 1543.7M1097 1544.2L1111 1544.5M1133 1545L1134.3 1545L1146.9 1543.6M1168.8 1541.2L1182.7 1539.7M1204.6 1537.3L1218.5 1535.8M1240.4 1535.6L1254.4 1536.2M1276.4 1537.1L1290.4 1537.7M1312.3 1538.8L1326.3 1539.6M1348.3 1540.8L1362.3 1541.6M1384.2 1542.8L1388.3 1543L1398.1 1541.2M1419.7 1537.1L1433.4 1534.5M1454.8 1533.9L1468.4 1537.2M1489.8 1542.4L1492.5 1543L1503.8 1542.3M1525.8 1540.8L1538 1540L1539.7 1539.9M1561.7 1538.6L1575.6 1537.8M1597.5 1538.1L1609.7 1540L1611.3 1539.7M1632.6 1537.4L1645.4 1543M1665.6 1549.1L1679.2 1545.8M1700.6 1540.6L1707.4 1539L1714.5 1538.8M1736.5 1538.4L1750.5 1538.1M1772.4 1538L1786.4 1538M1808.4 1538L1822.4 1538M1844.4 1538L1850.6 1538L1858.3 1539.2M1880 1542.5L1883.2 1543" fill="none" stroke="#5fcb73" stroke-width="6.6" stroke-linejoin="round" stroke-linecap="round"/>
<path d="M164 1537.9L174.1 1548L164 1558.1L153.9 1548Z" fill="#5fcb73"/>
<path d="M177 1538.9L187.1 1549L177 1559.1L166.9 1549Z" fill="#5fcb73"/>
<path d="M196.6 1538.9L206.7 1549L196.6 1559.1L186.5 1549Z" fill="#5fcb73"/>
<path d="M222.6 1537.9L232.7 1548L222.6 1558.1L212.5 1548Z" fill="#5fcb73"/>
<path d="M255.2 1532.9L265.3 1543L255.2 1553.1L245.1 1543Z" fill="#5fcb73"/>
<path d="M300.8 1533.9L310.9 1544L300.8 1554.1L290.7 1544Z" fill="#5fcb73"/>
<path d="M346.3 1527.9L356.4 1538L346.3 1548.1L336.2 1538Z" fill="#5fcb73"/>
<path d="M391.9 1534.9L402 1545L391.9 1555.1L381.8 1545Z" fill="#5fcb73"/>
<path d="M437.5 1535.9L447.6 1546L437.5 1556.1L427.4 1546Z" fill="#5fcb73"/>
<path d="M483.1 1531.9L493.2 1542L483.1 1552.1L473 1542Z" fill="#5fcb73"/>
<path d="M528.7 1534.9L538.8 1545L528.7 1555.1L518.6 1545Z" fill="#5fcb73"/>
<path d="M574.3 1536.9L584.4 1547L574.3 1557.1L564.2 1547Z" fill="#5fcb73"/>
<path d="M626.4 1531.9L636.5 1542L626.4 1552.1L616.3 1542Z" fill="#5fcb73"/>
<path d="M665.4 1530.9L675.5 1541L665.4 1551.1L655.3 1541Z" fill="#5fcb73"/>
<path d="M711 1532.9L721.1 1543L711 1553.1L700.9 1543Z" fill="#5fcb73"/>
<path d="M756.6 1537.4L766.7 1547.5L756.6 1557.6L746.5 1547.5Z" fill="#5fcb73"/>
<path d="M808.7 1535.9L818.8 1546L808.7 1556.1L798.6 1546Z" fill="#5fcb73"/>
<path d="M854.3 1537.9L864.4 1548L854.3 1558.1L844.2 1548Z" fill="#5fcb73"/>
<path d="M906.4 1533.9L916.5 1544L906.4 1554.1L896.3 1544Z" fill="#5fcb73"/>
<path d="M952 1531.9L962.1 1542L952 1552.1L941.9 1542Z" fill="#5fcb73"/>
<path d="M1043.1 1532.9L1053.2 1543L1043.1 1553.1L1033 1543Z" fill="#5fcb73"/>
<path d="M1134.3 1534.9L1144.4 1545L1134.3 1555.1L1124.2 1545Z" fill="#5fcb73"/>
<path d="M1225.5 1524.9L1235.6 1535L1225.5 1545.1L1215.4 1535Z" fill="#5fcb73"/>
<path d="M1297.1 1527.9L1307.2 1538L1297.1 1548.1L1287 1538Z" fill="#5fcb73"/>
<path d="M1388.3 1532.9L1398.4 1543L1388.3 1553.1L1378.2 1543Z" fill="#5fcb73"/>
<path d="M1446.9 1521.9L1457 1532L1446.9 1542.1L1436.8 1532Z" fill="#5fcb73"/>
<path d="M1492.5 1532.9L1502.6 1543L1492.5 1553.1L1482.4 1543Z" fill="#5fcb73"/>
<path d="M1538 1529.9L1548.1 1540L1538 1550.1L1527.9 1540Z" fill="#5fcb73"/>
<path d="M1590.1 1526.9L1600.2 1537L1590.1 1547.1L1580 1537Z" fill="#5fcb73"/>
<path d="M1609.7 1529.9L1619.8 1540L1609.7 1550.1L1599.6 1540Z" fill="#5fcb73"/>
<path d="M1629.2 1525.9L1639.3 1536L1629.2 1546.1L1619.1 1536Z" fill="#5fcb73"/>
<path d="M1661.8 1539.9L1671.9 1550L1661.8 1560.1L1651.7 1550Z" fill="#5fcb73"/>
<path d="M1707.4 1528.9L1717.5 1539L1707.4 1549.1L1697.3 1539Z" fill="#5fcb73"/>
<path d="M1752.9 1527.9L1763 1538L1752.9 1548.1L1742.8 1538Z" fill="#5fcb73"/>
<path d="M1850.6 1527.9L1860.7 1538L1850.6 1548.1L1840.5 1538Z" fill="#5fcb73"/>
<path d="M1883.2 1532.9L1893.3 1543L1883.2 1553.1L1873.1 1543Z" fill="#5fcb73"/>
<path d="M346.3 1527V1543M339.2 1527h14.2M339.2 1543h14.2M483.1 1529.5V1548.5M476 1529.5h14.2M476 1548.5h14.2M626.4 1527V1551M619.3 1527h14.2M619.3 1551h14.2M665.4 1528.5V1548.5M658.3 1528.5h14.2M658.3 1548.5h14.2M1446.9 1521V1537.6M1439.8 1521h14.2M1439.8 1537.6h14.2M1707.4 1512V1560M1700.3 1512h14.2M1700.3 1560h14.2" stroke="#000" stroke-width="3.3" fill="none"/>
<path d="M164 1545L177 1546L178 1546M200 1546.3L213.9 1545.5M235.7 1542.8L249.5 1540.5M271.4 1540.2L285.4 1540.8M307.4 1540.5L321.2 1538.5M343 1535.5L346.3 1535L356.8 1536.7M378.5 1540.4L391.9 1542.6L392.3 1542.6M414.3 1543.3L428.3 1543.7M450.2 1542.6L464.2 1541.1M486 1539.2L500 1540.1M522 1541.6L528.7 1542L535.9 1542.5M557.9 1543.9L571.9 1544.8M593.7 1542.8L607.6 1541.2M629.5 1539L643.5 1538.8M665.5 1538.5L679.5 1539.3M701.5 1540.5L711 1541L715.4 1541.4M737.3 1543.3L751.3 1544.5M773.3 1544.6L787.3 1544.2M809.2 1543.6L823.2 1544.3M845.2 1545.3L854.3 1545.7L859.2 1545.4M881.1 1543.8L895.1 1542.8M917.1 1541.5L931 1540.9M953 1540L967 1540.2M989 1540.4L1003 1540.6M1025 1540.8L1039 1541M1061 1541.3L1075 1541.6M1097 1542L1111 1542.3M1133 1542.7L1134.3 1542.7L1146.9 1541.3M1168.8 1538.9L1182.7 1537.3M1204.6 1534.9L1218.5 1533.4M1240.4 1533.3L1254.4 1534M1276.4 1535L1290.4 1535.7M1312.3 1536.8L1326.3 1537.6M1348.3 1538.8L1362.3 1539.6M1384.2 1540.8L1388.3 1541L1398 1539.1M1419.6 1534.7L1433.3 1532M1454.9 1531.2L1468.5 1534.4M1489.9 1539.4L1492.5 1540L1503.8 1539.2M1525.7 1537.6L1538 1536.7L1539.7 1536.6M1561.7 1535L1575.6 1534M1597.5 1534.1L1609.7 1536L1611.3 1535.6M1632.6 1533.2L1645.3 1539M1665.6 1545.6L1679.2 1542.5M1700.7 1537.5L1707.4 1536L1714.5 1535.5M1736.4 1534.1L1750.4 1533.2M1772.4 1532.9L1786.4 1532.9M1808.4 1532.8L1822.4 1532.7M1844.4 1532.6L1850.6 1532.6L1858.3 1533.9M1880 1537.5L1883.2 1538" fill="none" stroke="#4da6ff" stroke-width="6.6" stroke-linejoin="round" stroke-linecap="round"/>
<circle cx="164" cy="1545" r="10.4" fill="#4da6ff"/>
<circle cx="177" cy="1546" r="10.4" fill="#4da6ff"/>
<circle cx="196.6" cy="1546.5" r="10.4" fill="#4da6ff"/>
<circle cx="222.6" cy="1545" r="10.4" fill="#4da6ff"/>
<circle cx="255.2" cy="1539.5" r="10.4" fill="#4da6ff"/>
<circle cx="300.8" cy="1541.4" r="10.4" fill="#4da6ff"/>
<circle cx="346.3" cy="1535" r="10.4" fill="#4da6ff"/>
<circle cx="391.9" cy="1542.6" r="10.4" fill="#4da6ff"/>
<circle cx="437.5" cy="1544" r="10.4" fill="#4da6ff"/>
<circle cx="483.1" cy="1539" r="10.4" fill="#4da6ff"/>
<circle cx="528.7" cy="1542" r="10.4" fill="#4da6ff"/>
<circle cx="574.3" cy="1545" r="10.4" fill="#4da6ff"/>
<circle cx="626.4" cy="1539" r="10.4" fill="#4da6ff"/>
<circle cx="665.4" cy="1538.5" r="10.4" fill="#4da6ff"/>
<circle cx="711" cy="1541" r="10.4" fill="#4da6ff"/>
<circle cx="756.6" cy="1545" r="10.4" fill="#4da6ff"/>
<circle cx="808.7" cy="1543.6" r="10.4" fill="#4da6ff"/>
<circle cx="854.3" cy="1545.7" r="10.4" fill="#4da6ff"/>
<circle cx="906.4" cy="1542" r="10.4" fill="#4da6ff"/>
<circle cx="952" cy="1540" r="10.4" fill="#4da6ff"/>
<circle cx="1043.1" cy="1541" r="10.4" fill="#4da6ff"/>
<circle cx="1134.3" cy="1542.7" r="10.4" fill="#4da6ff"/>
<circle cx="1225.5" cy="1532.6" r="10.4" fill="#4da6ff"/>
<circle cx="1297.1" cy="1536" r="10.4" fill="#4da6ff"/>
<circle cx="1388.3" cy="1541" r="10.4" fill="#4da6ff"/>
<circle cx="1446.9" cy="1529.3" r="10.4" fill="#4da6ff"/>
<circle cx="1492.5" cy="1540" r="10.4" fill="#4da6ff"/>
<circle cx="1538" cy="1536.7" r="10.4" fill="#4da6ff"/>
<circle cx="1590.1" cy="1533" r="10.4" fill="#4da6ff"/>
<circle cx="1609.7" cy="1536" r="10.4" fill="#4da6ff"/>
<circle cx="1629.2" cy="1531.7" r="10.4" fill="#4da6ff"/>
<circle cx="1661.8" cy="1546.5" r="10.4" fill="#4da6ff"/>
<circle cx="1707.4" cy="1536" r="10.4" fill="#4da6ff"/>
<circle cx="1752.9" cy="1533" r="10.4" fill="#4da6ff"/>
<circle cx="1850.6" cy="1532.6" r="10.4" fill="#4da6ff"/>
<circle cx="1883.2" cy="1538" r="10.4" fill="#4da6ff"/>
<path d="M255.2 1337V1535M248.1 1337h14.2M248.1 1535h14.2M300.8 1175.4V1483.4M293.7 1175.4h14.2M293.7 1483.4h14.2M346.3 1135.7V1375.7M339.2 1135.7h14.2M339.2 1375.7h14.2M391.9 1161.8V1305M384.8 1161.8h14.2M384.8 1305h14.2M437.5 1154.1V1207.7M430.4 1154.1h14.2M430.4 1207.7h14.2M483.1 1140V1180M476 1140h14.2M476 1180h14.2M528.7 1156.3V1204.9M521.6 1156.3h14.2M521.6 1204.9h14.2M574.3 1146V1181.4M567.2 1146h14.2M567.2 1181.4h14.2M626.4 1169.5V1204.7M619.3 1169.5h14.2M619.3 1204.7h14.2M665.4 1140.2V1181.6M658.3 1140.2h14.2M658.3 1181.6h14.2M711 1172V1209.8M703.9 1172h14.2M703.9 1209.8h14.2M756.6 1160.7V1170.7M749.5 1160.7h14.2M749.5 1170.7h14.2M808.7 1147.5V1195.3M801.6 1147.5h14.2M801.6 1195.3h14.2M854.3 1177.9V1187.9M847.2 1177.9h14.2M847.2 1187.9h14.2M906.4 1164.4V1205.8M899.3 1164.4h14.2M899.3 1205.8h14.2M952 1167.7V1192.3M944.9 1167.7h14.2M944.9 1192.3h14.2M1043.1 1171.1V1208.9M1036 1171.1h14.2M1036 1208.9h14.2M1134.3 1165.7V1197.1M1127.2 1165.7h14.2M1127.2 1197.1h14.2M1225.5 1183.2V1206.6M1218.4 1183.2h14.2M1218.4 1206.6h14.2M1297.1 1154.3V1205.7M1290 1154.3h14.2M1290 1205.7h14.2M1388.3 1166.3V1202.3M1381.2 1166.3h14.2M1381.2 1202.3h14.2M1446.9 1157V1203M1439.8 1157h14.2M1439.8 1203h14.2M1492.5 1196V1264M1485.4 1196h14.2M1485.4 1264h14.2M1538 1190V1237.4M1530.9 1190h14.2M1530.9 1237.4h14.2M1590.1 1161.7V1246.9M1583 1161.7h14.2M1583 1246.9h14.2M1609.7 1189.2V1308M1602.6 1189.2h14.2M1602.6 1308h14.2M1629.2 1185.1V1297.7M1622.1 1185.1h14.2M1622.1 1297.7h14.2M1661.8 1195.3V1284.7M1654.7 1195.3h14.2M1654.7 1284.7h14.2M1707.4 1143V1197M1700.3 1143h14.2M1700.3 1197h14.2M1752.9 1159.7V1220.3M1745.8 1159.7h14.2M1745.8 1220.3h14.2M1850.6 1167.2V1198.6M1843.5 1167.2h14.2M1843.5 1198.6h14.2M1883.2 1171.3V1197.3M1876.1 1171.3h14.2M1876.1 1197.3h14.2" stroke="#000" stroke-width="3.3" fill="none"/>
<polyline points="164,1538.3 177,1539 196.6,1543 222.6,1537 255.2,1436 300.8,1329.4 346.3,1255.7 391.9,1233.4 437.5,1180.9 483.1,1160 528.7,1180.6 574.3,1163.7 626.4,1187.1 665.4,1160.9 711,1190.9 756.6,1165.7 808.7,1171.4 854.3,1182.9 906.4,1185.1 952,1180 1043.1,1190 1134.3,1181.4 1225.5,1194.9 1297.1,1180 1388.3,1184.3 1446.9,1180 1492.5,1230 1538,1213.7 1590.1,1204.3 1609.7,1248.6 1629.2,1241.4 1661.8,1240 1707.4,1170 1752.9,1190 1850.6,1182.9 1883.2,1184.3" fill="none" stroke="#0568da" stroke-width="6.4" stroke-linejoin="round"/>
<circle cx="164" cy="1538.3" r="10.4" fill="#0568da"/>
<circle cx="177" cy="1539" r="10.4" fill="#0568da"/>
<circle cx="196.6" cy="1543" r="10.4" fill="#0568da"/>
<circle cx="222.6" cy="1537" r="10.4" fill="#0568da"/>
<circle cx="255.2" cy="1436" r="10.4" fill="#0568da"/>
<circle cx="300.8" cy="1329.4" r="10.4" fill="#0568da"/>
<circle cx="346.3" cy="1255.7" r="10.4" fill="#0568da"/>
<circle cx="391.9" cy="1233.4" r="10.4" fill="#0568da"/>
<circle cx="437.5" cy="1180.9" r="10.4" fill="#0568da"/>
<circle cx="483.1" cy="1160" r="10.4" fill="#0568da"/>
<circle cx="528.7" cy="1180.6" r="10.4" fill="#0568da"/>
<circle cx="574.3" cy="1163.7" r="10.4" fill="#0568da"/>
<circle cx="626.4" cy="1187.1" r="10.4" fill="#0568da"/>
<circle cx="665.4" cy="1160.9" r="10.4" fill="#0568da"/>
<circle cx="711" cy="1190.9" r="10.4" fill="#0568da"/>
<circle cx="756.6" cy="1165.7" r="10.4" fill="#0568da"/>
<circle cx="808.7" cy="1171.4" r="10.4" fill="#0568da"/>
<circle cx="854.3" cy="1182.9" r="10.4" fill="#0568da"/>
<circle cx="906.4" cy="1185.1" r="10.4" fill="#0568da"/>
<circle cx="952" cy="1180" r="10.4" fill="#0568da"/>
<circle cx="1043.1" cy="1190" r="10.4" fill="#0568da"/>
<circle cx="1134.3" cy="1181.4" r="10.4" fill="#0568da"/>
<circle cx="1225.5" cy="1194.9" r="10.4" fill="#0568da"/>
<circle cx="1297.1" cy="1180" r="10.4" fill="#0568da"/>
<circle cx="1388.3" cy="1184.3" r="10.4" fill="#0568da"/>
<circle cx="1446.9" cy="1180" r="10.4" fill="#0568da"/>
<circle cx="1492.5" cy="1230" r="10.4" fill="#0568da"/>
<circle cx="1538" cy="1213.7" r="10.4" fill="#0568da"/>
<circle cx="1590.1" cy="1204.3" r="10.4" fill="#0568da"/>
<circle cx="1609.7" cy="1248.6" r="10.4" fill="#0568da"/>
<circle cx="1629.2" cy="1241.4" r="10.4" fill="#0568da"/>
<circle cx="1661.8" cy="1240" r="10.4" fill="#0568da"/>
<circle cx="1707.4" cy="1170" r="10.4" fill="#0568da"/>
<circle cx="1752.9" cy="1190" r="10.4" fill="#0568da"/>
<circle cx="1850.6" cy="1182.9" r="10.4" fill="#0568da"/>
<circle cx="1883.2" cy="1184.3" r="10.4" fill="#0568da"/>
<rect x="162.5" y="1737.3" width="648.2" height="705.8" fill="#c9ddf7"/>
<rect x="1592.2" y="1737.3" width="294.3" height="705.8" fill="#c9ddf7"/>
<text x="902.7" y="1785" font-family="Liberation Sans, sans-serif" font-weight="bold" font-size="48" textLength="238.8" lengthAdjust="spacing">Blood IgA</text>
<line x1="159.2" y1="1734.3" x2="159.2" y2="2446.1" stroke="#000" stroke-width="6.8"/>
<line x1="138.7" y1="2342" x2="1887.9" y2="2342" stroke="#000" stroke-width="6.9"/>
<line x1="138.7" y1="1737.7" x2="159.2" y2="1737.7" stroke="#000" stroke-width="6.8"/>
<text x="131.9" y="1751.8" font-family="Liberation Sans, sans-serif" font-weight="bold" font-size="35.5" text-anchor="end" textLength="51.2" lengthAdjust="spacingAndGlyphs">1.2</text>
<line x1="138.7" y1="1838.4" x2="159.2" y2="1838.4" stroke="#000" stroke-width="6.8"/>
<text x="131.9" y="1852.5" font-family="Liberation Sans, sans-serif" font-weight="bold" font-size="35.5" text-anchor="end" textLength="51.2" lengthAdjust="spacingAndGlyphs">1.0</text>
<line x1="138.7" y1="1939.1" x2="159.2" y2="1939.1" stroke="#000" stroke-width="6.8"/>
<text x="131.9" y="1953.2" font-family="Liberation Sans, sans-serif" font-weight="bold" font-size="35.5" text-anchor="end" textLength="51.2" lengthAdjust="spacingAndGlyphs">0.8</text>
<line x1="138.7" y1="2039.8" x2="159.2" y2="2039.8" stroke="#000" stroke-width="6.8"/>
<text x="131.9" y="2053.9" font-family="Liberation Sans, sans-serif" font-weight="bold" font-size="35.5" text-anchor="end" textLength="51.2" lengthAdjust="spacingAndGlyphs">0.6</text>
<line x1="138.7" y1="2140.6" x2="159.2" y2="2140.6" stroke="#000" stroke-width="6.8"/>
<text x="131.9" y="2154.7" font-family="Liberation Sans, sans-serif" font-weight="bold" font-size="35.5" text-anchor="end" textLength="51.2" lengthAdjust="spacingAndGlyphs">0.4</text>
<line x1="138.7" y1="2241.3" x2="159.2" y2="2241.3" stroke="#000" stroke-width="6.8"/>
<text x="131.9" y="2255.4" font-family="Liberation Sans, sans-serif" font-weight="bold" font-size="35.5" text-anchor="end" textLength="51.2" lengthAdjust="spacingAndGlyphs">0.2</text>
<text x="131.9" y="2356.1" font-family="Liberation Sans, sans-serif" font-weight="bold" font-size="35.5" text-anchor="end" textLength="51.2" lengthAdjust="spacingAndGlyphs">0.0</text>
<line x1="138.7" y1="2442.7" x2="159.2" y2="2442.7" stroke="#000" stroke-width="6.8"/>
<text x="131.9" y="2456.8" font-family="Liberation Sans, sans-serif" font-weight="bold" font-size="35.5" text-anchor="end" textLength="63.6" lengthAdjust="spacingAndGlyphs">-0.2</text>
<path d="M172.2 2342v11M185.2 2342v11M198.3 2342v11M211.3 2342v11M237.3 2342v11M250.4 2342v11M263.4 2342v11M276.4 2342v11M302.5 2342v11M315.5 2342v11M328.5 2342v11M341.5 2342v11M367.6 2342v11M380.6 2342v11M393.6 2342v11M406.7 2342v11M432.7 2342v11M445.7 2342v11M458.8 2342v11M471.8 2342v11M497.8 2342v11M510.8 2342v11M523.9 2342v11M536.9 2342v11M562.9 2342v11M576 2342v11M589 2342v11M602 2342v11M628.1 2342v11M641.1 2342v11M654.1 2342v11M667.1 2342v11M693.2 2342v11M706.2 2342v11M719.2 2342v11M732.3 2342v11M758.3 2342v11M771.3 2342v11M784.4 2342v11M797.4 2342v11M823.4 2342v11M836.4 2342v11M849.5 2342v11M862.5 2342v11M888.5 2342v11M901.6 2342v11M914.6 2342v11M927.6 2342v11M953.7 2342v11M966.7 2342v11M979.7 2342v11M992.7 2342v11M1018.8 2342v11M1031.8 2342v11M1044.8 2342v11M1057.9 2342v11M1083.9 2342v11M1096.9 2342v11M1110 2342v11M1123 2342v11M1149 2342v11M1162 2342v11M1175.1 2342v11M1188.1 2342v11M1214.1 2342v11M1227.2 2342v11M1240.2 2342v11M1253.2 2342v11M1279.3 2342v11M1292.3 2342v11M1305.3 2342v11M1318.3 2342v11M1344.4 2342v11M1357.4 2342v11M1370.4 2342v11M1383.5 2342v11M1409.5 2342v11M1422.5 2342v11M1435.6 2342v11M1448.6 2342v11M1474.6 2342v11M1487.6 2342v11M1500.7 2342v11M1513.7 2342v11M1539.7 2342v11M1552.8 2342v11M1565.8 2342v11M1578.8 2342v11M1604.9 2342v11M1617.9 2342v11M1630.9 2342v11M1643.9 2342v11M1670 2342v11M1683 2342v11M1696 2342v11M1709.1 2342v11M1735.1 2342v11M1748.1 2342v11M1761.2 2342v11M1774.2 2342v11M1800.2 2342v11M1813.2 2342v11M1826.3 2342v11M1839.3 2342v11M1865.3 2342v11M1878.4 2342v11" stroke="#000" stroke-width="6.9" fill="none"/>
<path d="M224.3 2342v20.4M289.4 2342v20.4M354.6 2342v20.4M419.7 2342v20.4M484.8 2342v20.4M549.9 2342v20.4M615 2342v20.4M680.2 2342v20.4M745.3 2342v20.4M810.4 2342v20.4M875.5 2342v20.4M940.6 2342v20.4M1005.8 2342v20.4M1070.9 2342v20.4M1136 2342v20.4M1201.1 2342v20.4M1266.2 2342v20.4M1331.4 2342v20.4M1396.5 2342v20.4M1461.6 2342v20.4M1526.7 2342v20.4M1591.8 2342v20.4M1657 2342v20.4M1722.1 2342v20.4M1787.2 2342v20.4M1852.3 2342v20.4" stroke="#000" stroke-width="6.9" fill="none"/>
<text x="224.3" y="2400.2" font-family="Liberation Sans, sans-serif" font-weight="bold" font-size="25.6" text-anchor="middle" textLength="30.6" lengthAdjust="spacingAndGlyphs">10</text>
<text x="289.4" y="2400.2" font-family="Liberation Sans, sans-serif" font-weight="bold" font-size="25.6" text-anchor="middle" textLength="30.6" lengthAdjust="spacingAndGlyphs">20</text>
<text x="354.6" y="2400.2" font-family="Liberation Sans, sans-serif" font-weight="bold" font-size="25.6" text-anchor="middle" textLength="30.6" lengthAdjust="spacingAndGlyphs">30</text>
<text x="419.7" y="2400.2" font-family="Liberation Sans, sans-serif" font-weight="bold" font-size="25.6" text-anchor="middle" textLength="30.6" lengthAdjust="spacingAndGlyphs">40</text>
<text x="484.8" y="2400.2" font-family="Liberation Sans, sans-serif" font-weight="bold" font-size="25.6" text-anchor="middle" textLength="30.6" lengthAdjust="spacingAndGlyphs">50</text>
<text x="549.9" y="2400.2" font-family="Liberation Sans, sans-serif" font-weight="bold" font-size="25.6" text-anchor="middle" textLength="30.6" lengthAdjust="spacingAndGlyphs">60</text>
<text x="615" y="2400.2" font-family="Liberation Sans, sans-serif" font-weight="bold" font-size="25.6" text-anchor="middle" textLength="30.6" lengthAdjust="spacingAndGlyphs">70</text>
<text x="680.2" y="2400.2" font-family="Liberation Sans, sans-serif" font-weight="bold" font-size="25.6" text-anchor="middle" textLength="30.6" lengthAdjust="spacingAndGlyphs">80</text>
<text x="745.3" y="2400.2" font-family="Liberation Sans, sans-serif" font-weight="bold" font-size="25.6" text-anchor="middle" textLength="30.6" lengthAdjust="spacingAndGlyphs">90</text>
<text x="810.4" y="2400.2" font-family="Liberation Sans, sans-serif" font-weight="bold" font-size="25.6" text-anchor="middle" textLength="44.6" lengthAdjust="spacingAndGlyphs">100</text>
<text x="875.5" y="2400.2" font-family="Liberation Sans, sans-serif" font-weight="bold" font-size="25.6" text-anchor="middle" textLength="44.6" lengthAdjust="spacingAndGlyphs">110</text>
<text x="940.6" y="2400.2" font-family="Liberation Sans, sans-serif" font-weight="bold" font-size="25.6" text-anchor="middle" textLength="44.6" lengthAdjust="spacingAndGlyphs">120</text>
<text x="1005.8" y="2400.2" font-family="Liberation Sans, sans-serif" font-weight="bold" font-size="25.6" text-anchor="middle" textLength="44.6" lengthAdjust="spacingAndGlyphs">130</text>
<text x="1070.9" y="2400.2" font-family="Liberation Sans, sans-serif" font-weight="bold" font-size="25.6" text-anchor="middle" textLength="44.6" lengthAdjust="spacingAndGlyphs">140</text>
<text x="1136" y="2400.2" font-family="Liberation Sans, sans-serif" font-weight="bold" font-size="25.6" text-anchor="middle" textLength="44.6" lengthAdjust="spacingAndGlyphs">150</text>
<text x="1201.1" y="2400.2" font-family="Liberation Sans, sans-serif" font-weight="bold" font-size="25.6" text-anchor="middle" textLength="44.6" lengthAdjust="spacingAndGlyphs">160</text>
<text x="1266.2" y="2400.2" font-family="Liberation Sans, sans-serif" font-weight="bold" font-size="25.6" text-anchor="middle" textLength="44.6" lengthAdjust="spacingAndGlyphs">170</text>
<text x="1331.4" y="2400.2" font-family="Liberation Sans, sans-serif" font-weight="bold" font-size="25.6" text-anchor="middle" textLength="44.6" lengthAdjust="spacingAndGlyphs">180</text>
<text x="1396.5" y="2400.2" font-family="Liberation Sans, sans-serif" font-weight="bold" font-size="25.6" text-anchor="middle" textLength="44.6" lengthAdjust="spacingAndGlyphs">190</text>
<text x="1461.6" y="2400.2" font-family="Liberation Sans, sans-serif" font-weight="bold" font-size="25.6" text-anchor="middle" textLength="44.6" lengthAdjust="spacingAndGlyphs">200</text>
<text x="1526.7" y="2400.2" font-family="Liberation Sans, sans-serif" font-weight="bold" font-size="25.6" text-anchor="middle" textLength="44.6" lengthAdjust="spacingAndGlyphs">210</text>
<text x="1591.8" y="2400.2" font-family="Liberation Sans, sans-serif" font-weight="bold" font-size="25.6" text-anchor="middle" textLength="44.6" lengthAdjust="spacingAndGlyphs">220</text>
<text x="1657" y="2400.2" font-family="Liberation Sans, sans-serif" font-weight="bold" font-size="25.6" text-anchor="middle" textLength="44.6" lengthAdjust="spacingAndGlyphs">230</text>
<text x="1722.1" y="2400.2" font-family="Liberation Sans, sans-serif" font-weight="bold" font-size="25.6" text-anchor="middle" textLength="44.6" lengthAdjust="spacingAndGlyphs">240</text>
<text x="1787.2" y="2400.2" font-family="Liberation Sans, sans-serif" font-weight="bold" font-size="25.6" text-anchor="middle" textLength="44.6" lengthAdjust="spacingAndGlyphs">250</text>
<text x="1852.3" y="2400.2" font-family="Liberation Sans, sans-serif" font-weight="bold" font-size="25.6" text-anchor="middle" textLength="44.6" lengthAdjust="spacingAndGlyphs">260</text>
<text x="1021.8" y="2467.2" font-family="Liberation Sans, sans-serif" font-weight="bold" font-size="39" text-anchor="middle" textLength="89" lengthAdjust="spacingAndGlyphs">Days</text>
<text transform="translate(37.2 2095.8) rotate(-90)" font-family="Liberation Sans, sans-serif" font-weight="bold" font-size="40.4" text-anchor="middle" textLength="227.4" lengthAdjust="spacingAndGlyphs">OD by ELISA</text>
<path d="M165.7 2320V2328M158.6 2320h14.2M158.6 2328h14.2M178.7 2319V2327M171.6 2319h14.2M171.6 2327h14.2M198.3 2318V2326M191.2 2318h14.2M191.2 2326h14.2M224.3 2321V2329M217.2 2321h14.2M217.2 2329h14.2M256.9 2320V2328M249.8 2320h14.2M249.8 2328h14.2M302.5 2305.7V2325.7M295.4 2305.7h14.2M295.4 2325.7h14.2M348 2285V2309M340.9 2285h14.2M340.9 2309h14.2M393.6 2241V2287M386.5 2241h14.2M386.5 2287h14.2M439.2 2110.9V2230.3M432.1 2110.9h14.2M432.1 2230.3h14.2M484.8 2041.4V2154.6M477.7 2041.4h14.2M477.7 2154.6h14.2M530.4 2019.6V2117.6M523.3 2019.6h14.2M523.3 2117.6h14.2M576 2026.7V2071.3M568.9 2026.7h14.2M568.9 2071.3h14.2M628.1 1901.4V2074.7M621 1901.4h14.2M621 2074.7h14.2M667.1 1925.7V2090.3M660 1925.7h14.2M660 2090.3h14.2M712.7 1898.9V2065.7M705.6 1898.9h14.2M705.6 2065.7h14.2M758.3 1928.4V2145.6M751.2 1928.4h14.2M751.2 2145.6h14.2M810.4 1949.2V2148M803.3 1949.2h14.2M803.3 2148h14.2M856 1963.4V2152M848.9 1963.4h14.2M848.9 2152h14.2M908.1 2017V2177M901 2017h14.2M901 2177h14.2M953.7 2001.4V2174.6M946.6 2001.4h14.2M946.6 2174.6h14.2M1044.8 2029.2V2164M1037.7 2029.2h14.2M1037.7 2164h14.2M1136 2088.6V2231.4M1128.9 2088.6h14.2M1128.9 2231.4h14.2M1227.2 2130.7V2224.7M1220.1 2130.7h14.2M1220.1 2224.7h14.2M1298.8 2090V2231.2M1291.7 2090h14.2M1291.7 2231.2h14.2M1390 2114.4V2228.4M1382.9 2114.4h14.2M1382.9 2228.4h14.2M1448.6 2078.6V2201.4M1441.5 2078.6h14.2M1441.5 2201.4h14.2M1494.2 2183V2277M1487.1 2183h14.2M1487.1 2277h14.2M1539.7 2197.3V2251.3M1532.6 2197.3h14.2M1532.6 2251.3h14.2M1591.8 2217.2V2268.6M1584.7 2217.2h14.2M1584.7 2268.6h14.2M1611.4 2202.1V2291.9M1604.3 2202.1h14.2M1604.3 2291.9h14.2M1630.9 2176.7V2254.7M1623.8 2176.7h14.2M1623.8 2254.7h14.2M1663.5 2057.1V2185.7M1656.4 2057.1h14.2M1656.4 2185.7h14.2M1709.1 1956.3V2123.7M1702 1956.3h14.2M1702 2123.7h14.2M1754.6 1936.3V2147.7M1747.5 1936.3h14.2M1747.5 2147.7h14.2M1852.3 1985.1V2146.3M1845.2 1985.1h14.2M1845.2 2146.3h14.2M1884.9 1950.9V2154.9M1877.8 1950.9h14.2M1877.8 2154.9h14.2" stroke="#000" stroke-width="3.3" fill="none"/>
<polyline points="165.7,2324 178.7,2323 198.3,2322 224.3,2325 256.9,2324 302.5,2315.7 348,2297 393.6,2264 439.2,2170.6 484.8,2098 530.4,2068.6 576,2049 628.1,1985.7 667.1,2008 712.7,1982.3 758.3,2037 810.4,2048.6 856,2057.7 908.1,2097 953.7,2088 1044.8,2096.6 1136,2160 1227.2,2177.7 1298.8,2160.6 1390,2171.4 1448.6,2140 1494.2,2230 1539.7,2224.3 1591.8,2242.9 1611.4,2247 1630.9,2215.7 1663.5,2121.4 1709.1,2040 1754.6,2042 1852.3,2065.7 1884.9,2052.9" fill="none" stroke="#2a8a3a" stroke-width="6.4" stroke-linejoin="round"/>
<path d="M165.7 2313.9L175.8 2324L165.7 2334.1L155.6 2324Z" fill="#2a8a3a"/>
<path d="M178.7 2312.9L188.8 2323L178.7 2333.1L168.6 2323Z" fill="#2a8a3a"/>
<path d="M198.3 2311.9L208.4 2322L198.3 2332.1L188.2 2322Z" fill="#2a8a3a"/>
<path d="M224.3 2314.9L234.4 2325L224.3 2335.1L214.2 2325Z" fill="#2a8a3a"/>
<path d="M256.9 2313.9L267 2324L256.9 2334.1L246.8 2324Z" fill="#2a8a3a"/>
<path d="M302.5 2305.6L312.6 2315.7L302.5 2325.8L292.4 2315.7Z" fill="#2a8a3a"/>
<path d="M348 2286.9L358.1 2297L348 2307.1L337.9 2297Z" fill="#2a8a3a"/>
<path d="M393.6 2253.9L403.7 2264L393.6 2274.1L383.5 2264Z" fill="#2a8a3a"/>
<path d="M439.2 2160.5L449.3 2170.6L439.2 2180.7L429.1 2170.6Z" fill="#2a8a3a"/>
<path d="M484.8 2087.9L494.9 2098L484.8 2108.1L474.7 2098Z" fill="#2a8a3a"/>
<path d="M530.4 2058.5L540.5 2068.6L530.4 2078.7L520.3 2068.6Z" fill="#2a8a3a"/>
<path d="M576 2038.9L586.1 2049L576 2059.1L565.9 2049Z" fill="#2a8a3a"/>
<path d="M628.1 1975.6L638.2 1985.7L628.1 1995.8L618 1985.7Z" fill="#2a8a3a"/>
<path d="M667.1 1997.9L677.2 2008L667.1 2018.1L657 2008Z" fill="#2a8a3a"/>
<path d="M712.7 1972.2L722.8 1982.3L712.7 1992.4L702.6 1982.3Z" fill="#2a8a3a"/>
<path d="M758.3 2026.9L768.4 2037L758.3 2047.1L748.2 2037Z" fill="#2a8a3a"/>
<path d="M810.4 2038.5L820.5 2048.6L810.4 2058.7L800.3 2048.6Z" fill="#2a8a3a"/>
<path d="M856 2047.6L866.1 2057.7L856 2067.8L845.9 2057.7Z" fill="#2a8a3a"/>
<path d="M908.1 2086.9L918.2 2097L908.1 2107.1L898 2097Z" fill="#2a8a3a"/>
<path d="M953.7 2077.9L963.8 2088L953.7 2098.1L943.6 2088Z" fill="#2a8a3a"/>
<path d="M1044.8 2086.5L1054.9 2096.6L1044.8 2106.7L1034.7 2096.6Z" fill="#2a8a3a"/>
<path d="M1136 2149.9L1146.1 2160L1136 2170.1L1125.9 2160Z" fill="#2a8a3a"/>
<path d="M1227.2 2167.6L1237.3 2177.7L1227.2 2187.8L1217.1 2177.7Z" fill="#2a8a3a"/>
<path d="M1298.8 2150.5L1308.9 2160.6L1298.8 2170.7L1288.7 2160.6Z" fill="#2a8a3a"/>
<path d="M1390 2161.3L1400.1 2171.4L1390 2181.5L1379.9 2171.4Z" fill="#2a8a3a"/>
<path d="M1448.6 2129.9L1458.7 2140L1448.6 2150.1L1438.5 2140Z" fill="#2a8a3a"/>
<path d="M1494.2 2219.9L1504.3 2230L1494.2 2240.1L1484.1 2230Z" fill="#2a8a3a"/>
<path d="M1539.7 2214.2L1549.8 2224.3L1539.7 2234.4L1529.6 2224.3Z" fill="#2a8a3a"/>
<path d="M1591.8 2232.8L1601.9 2242.9L1591.8 2253L1581.7 2242.9Z" fill="#2a8a3a"/>
<path d="M1611.4 2236.9L1621.5 2247L1611.4 2257.1L1601.3 2247Z" fill="#2a8a3a"/>
<path d="M1630.9 2205.6L1641 2215.7L1630.9 2225.8L1620.8 2215.7Z" fill="#2a8a3a"/>
<path d="M1663.5 2111.3L1673.6 2121.4L1663.5 2131.5L1653.4 2121.4Z" fill="#2a8a3a"/>
<path d="M1709.1 2029.9L1719.2 2040L1709.1 2050.1L1699 2040Z" fill="#2a8a3a"/>
<path d="M1754.6 2031.9L1764.7 2042L1754.6 2052.1L1744.5 2042Z" fill="#2a8a3a"/>
<path d="M1852.3 2055.6L1862.4 2065.7L1852.3 2075.8L1842.2 2065.7Z" fill="#2a8a3a"/>
<path d="M1884.9 2042.8L1895 2052.9L1884.9 2063L1874.8 2052.9Z" fill="#2a8a3a"/>
<path d="M439.2 2304V2324M432.1 2304h14.2M432.1 2324h14.2M484.8 2299V2323M477.7 2299h14.2M477.7 2323h14.2M530.4 2310V2330M523.3 2310h14.2M523.3 2330h14.2M576 2306.6V2330.6M568.9 2306.6h14.2M568.9 2330.6h14.2M1591.8 2306V2334M1584.7 2306h14.2M1584.7 2334h14.2M1709.1 2225.1V2362.3M1702 2225.1h14.2M1702 2362.3h14.2M1852.3 2282V2332M1845.2 2282h14.2M1845.2 2332h14.2M1884.9 2270V2321.4M1877.8 2270h14.2M1877.8 2321.4h14.2" stroke="#000" stroke-width="3.3" fill="none"/>
<path d="M165.7 2320L178.7 2322L179.6 2322.2M200.8 2326.4L214.6 2328.5M236.7 2328.5L250.6 2326.8M272.1 2323.5L286 2321.3M307.9 2317.6L321.7 2315M343.3 2310.9L348 2310L357.9 2310.9M379.8 2312.8L393.6 2314M415.4 2314L429.4 2314M448.6 2313.4L462.6 2312.5M484.6 2311L484.8 2311L498.1 2313.6M519.7 2317.9L530.4 2320L534.3 2319.9M556.3 2319.2L570.3 2318.8M592.2 2320.3L606.1 2321.7M628 2324L628.1 2324L639.3 2325.3M661.1 2327.9L667.1 2328.6L675.2 2328.3M697.2 2327.5L711.1 2327.1M732.9 2323.9L746.8 2321.8M768.6 2321.1L782.6 2322.7M804.4 2325L810.4 2325.7L818.7 2325.7M840.7 2325.7L854.7 2325.7M876.6 2325L890.6 2324.6M912.6 2323.6L926.6 2322.4M948.5 2320.5L953.7 2320L962.3 2320.3M984.3 2321L998.3 2321.5M1020.3 2322.2L1034.3 2322.7M1056.3 2323.3L1070.3 2323.8M1092.3 2324.4L1106.3 2324.8M1128.3 2325.5L1136 2325.7L1142.3 2325.7M1164.3 2325.7L1178.3 2325.7M1200.3 2325.7L1214.3 2325.7M1236.1 2325.4L1250.1 2324.8M1272.1 2324L1286.1 2323.5M1308.1 2322.9L1322.1 2322.8M1344.1 2322.7L1358.1 2322.5M1380.1 2322.4L1390 2322.3L1394.1 2322.5M1416.1 2323.8L1430.1 2324.6M1452.1 2326L1466 2327.3M1487.9 2329.4L1494.2 2330L1502 2330M1524 2330L1538 2330M1559.6 2326.2L1573.3 2323.6M1594.8 2318L1606.5 2310.3M1626.7 2308.3L1630.9 2308.6L1640.1 2311.8M1660.9 2319.1L1663.5 2320L1672.1 2315M1691.1 2304L1703.3 2297M1709.1 2293.7L1720.6 2292M1742.4 2288.8L1754.6 2287M1775.7 2291.3L1789.4 2294.1M1811 2298.5L1824.7 2301.3M1846.2 2305.8L1852.3 2307L1858 2305M1878.8 2297.8L1884.9 2295.7" fill="none" stroke="#5fcb73" stroke-width="6.6" stroke-linejoin="round" stroke-linecap="round"/>
<path d="M165.7 2309.9L175.8 2320L165.7 2330.1L155.6 2320Z" fill="#5fcb73"/>
<path d="M178.7 2311.9L188.8 2322L178.7 2332.1L168.6 2322Z" fill="#5fcb73"/>
<path d="M198.3 2315.9L208.4 2326L198.3 2336.1L188.2 2326Z" fill="#5fcb73"/>
<path d="M224.3 2319.9L234.4 2330L224.3 2340.1L214.2 2330Z" fill="#5fcb73"/>
<path d="M256.9 2315.9L267 2326L256.9 2336.1L246.8 2326Z" fill="#5fcb73"/>
<path d="M302.5 2308.5L312.6 2318.6L302.5 2328.7L292.4 2318.6Z" fill="#5fcb73"/>
<path d="M348 2299.9L358.1 2310L348 2320.1L337.9 2310Z" fill="#5fcb73"/>
<path d="M393.6 2303.9L403.7 2314L393.6 2324.1L383.5 2314Z" fill="#5fcb73"/>
<path d="M439.2 2303.9L449.3 2314L439.2 2324.1L429.1 2314Z" fill="#5fcb73"/>
<path d="M484.8 2300.9L494.9 2311L484.8 2321.1L474.7 2311Z" fill="#5fcb73"/>
<path d="M530.4 2309.9L540.5 2320L530.4 2330.1L520.3 2320Z" fill="#5fcb73"/>
<path d="M576 2308.5L586.1 2318.6L576 2328.7L565.9 2318.6Z" fill="#5fcb73"/>
<path d="M628.1 2313.9L638.2 2324L628.1 2334.1L618 2324Z" fill="#5fcb73"/>
<path d="M667.1 2318.5L677.2 2328.6L667.1 2338.7L657 2328.6Z" fill="#5fcb73"/>
<path d="M712.7 2316.9L722.8 2327L712.7 2337.1L702.6 2327Z" fill="#5fcb73"/>
<path d="M758.3 2309.9L768.4 2320L758.3 2330.1L748.2 2320Z" fill="#5fcb73"/>
<path d="M810.4 2315.6L820.5 2325.7L810.4 2335.8L800.3 2325.7Z" fill="#5fcb73"/>
<path d="M856 2315.6L866.1 2325.7L856 2335.8L845.9 2325.7Z" fill="#5fcb73"/>
<path d="M908.1 2313.9L918.2 2324L908.1 2334.1L898 2324Z" fill="#5fcb73"/>
<path d="M953.7 2309.9L963.8 2320L953.7 2330.1L943.6 2320Z" fill="#5fcb73"/>
<path d="M1044.8 2312.9L1054.9 2323L1044.8 2333.1L1034.7 2323Z" fill="#5fcb73"/>
<path d="M1136 2315.6L1146.1 2325.7L1136 2335.8L1125.9 2325.7Z" fill="#5fcb73"/>
<path d="M1227.2 2315.6L1237.3 2325.7L1227.2 2335.8L1217.1 2325.7Z" fill="#5fcb73"/>
<path d="M1298.8 2312.9L1308.9 2323L1298.8 2333.1L1288.7 2323Z" fill="#5fcb73"/>
<path d="M1390 2312.2L1400.1 2322.3L1390 2332.4L1379.9 2322.3Z" fill="#5fcb73"/>
<path d="M1448.6 2315.6L1458.7 2325.7L1448.6 2335.8L1438.5 2325.7Z" fill="#5fcb73"/>
<path d="M1494.2 2319.9L1504.3 2330L1494.2 2340.1L1484.1 2330Z" fill="#5fcb73"/>
<path d="M1539.7 2319.9L1549.8 2330L1539.7 2340.1L1529.6 2330Z" fill="#5fcb73"/>
<path d="M1591.8 2309.9L1601.9 2320L1591.8 2330.1L1581.7 2320Z" fill="#5fcb73"/>
<path d="M1611.4 2296.9L1621.5 2307L1611.4 2317.1L1601.3 2307Z" fill="#5fcb73"/>
<path d="M1630.9 2298.5L1641 2308.6L1630.9 2318.7L1620.8 2308.6Z" fill="#5fcb73"/>
<path d="M1663.5 2309.9L1673.6 2320L1663.5 2330.1L1653.4 2320Z" fill="#5fcb73"/>
<path d="M1709.1 2283.6L1719.2 2293.7L1709.1 2303.8L1699 2293.7Z" fill="#5fcb73"/>
<path d="M1754.6 2276.9L1764.7 2287L1754.6 2297.1L1744.5 2287Z" fill="#5fcb73"/>
<path d="M1852.3 2296.9L1862.4 2307L1852.3 2317.1L1842.2 2307Z" fill="#5fcb73"/>
<path d="M1884.9 2285.6L1895 2295.7L1884.9 2305.8L1874.8 2295.7Z" fill="#5fcb73"/>
<path d="M439.2 2301.5V2326.5M432.1 2301.5h14.2M432.1 2326.5h14.2M484.8 2294V2324M477.7 2294h14.2M477.7 2324h14.2M530.4 2301V2323M523.3 2301h14.2M523.3 2323h14.2M576 2296.9V2324.9M568.9 2296.9h14.2M568.9 2324.9h14.2M1044.8 2313V2333M1037.7 2313h14.2M1037.7 2333h14.2M1227.2 2318.6V2338.6M1220.1 2318.6h14.2M1220.1 2338.6h14.2M1591.8 2302.9V2342.9M1584.7 2302.9h14.2M1584.7 2342.9h14.2M1611.4 2273.6V2343.6M1604.3 2273.6h14.2M1604.3 2343.6h14.2M1630.9 2267V2353M1623.8 2267h14.2M1623.8 2353h14.2M1663.5 2290.9V2358.9M1656.4 2290.9h14.2M1656.4 2358.9h14.2M1709.1 2153.7V2389.1M1702 2153.7h14.2M1702 2389.1h14.2M1754.6 2206.4V2367.6M1747.5 2206.4h14.2M1747.5 2367.6h14.2M1852.3 2284.3V2344.3M1845.2 2284.3h14.2M1845.2 2344.3h14.2M1884.9 2251.4V2353.2M1877.8 2251.4h14.2M1877.8 2353.2h14.2" stroke="#000" stroke-width="3.3" fill="none"/>
<path d="M165.7 2333L178.7 2331.4L179.6 2331.6M200.8 2337L214.8 2337M236.6 2334.9L250.4 2332.5M272.2 2329.5L286.1 2327.7M308 2325.4L322 2324.5M343.9 2323.2L348 2323L357.8 2324.5M379.5 2327.8L393.4 2330M414.2 2322.8L427.4 2318.2M448.6 2313L462.5 2311.4M484.4 2309L484.8 2309L498.4 2309.9M520.3 2311.3L530.4 2312L534.3 2311.9M556.3 2311.4L570.3 2311M591.4 2316.1L604.7 2320.6M625.5 2327.7L628.1 2328.6L639.3 2329.7M661.2 2331.7L667.1 2332.3L675.2 2332.5M697.2 2333L711.2 2333.4M733 2330.6L746.8 2328.6M768.7 2327.1L782.7 2327.3M804.7 2327.6L810.4 2327.7L818.7 2327.3M840.7 2326.4L854.7 2325.8M876.6 2326.5L890.6 2327M912.6 2327.2L926.5 2325.5M948.3 2322.9L953.7 2322.3L962.3 2322.4M984.3 2322.5L998.3 2322.6M1020.3 2322.8L1034.3 2322.9M1056.3 2323L1070.3 2323M1092.3 2322.9L1106.3 2322.9M1128.3 2322.9L1136 2322.9L1142.3 2323.3M1164.2 2324.7L1178.2 2325.5M1200.2 2326.9L1214.1 2327.8M1236.1 2328.6L1250.1 2328.6M1272.1 2328.6L1286.1 2328.6M1308.1 2328.6L1322.1 2328.6M1344.1 2328.6L1358.1 2328.6M1380.1 2328.6L1390 2328.6L1394.1 2328.5M1416.1 2327.9L1430.1 2327.5M1452.1 2327.3L1466 2328.4M1488 2330.1L1494.2 2330.6L1502 2330.6M1524 2330.6L1538 2330.6M1559.7 2327.6L1573.6 2325.6M1594.7 2320.8L1606 2312.5M1626.7 2309.7L1630.9 2310L1639.8 2314.1M1659.8 2323.2L1663.5 2324.9L1669.9 2317.3M1684.2 2300.6L1693.3 2289.9M1707.5 2273.2L1709.1 2271.4L1720.1 2275.2M1740.9 2282.3L1754.2 2286.8M1775.3 2292.8L1788.8 2296.6M1810 2302.5L1823.5 2306.2M1844.7 2312.2L1852.3 2314.3L1858 2312.2M1878.6 2304.6L1884.9 2302.3" fill="none" stroke="#4da6ff" stroke-width="6.6" stroke-linejoin="round" stroke-linecap="round"/>
<circle cx="165.7" cy="2333" r="10.4" fill="#4da6ff"/>
<circle cx="178.7" cy="2331.4" r="10.4" fill="#4da6ff"/>
<circle cx="198.3" cy="2337" r="10.4" fill="#4da6ff"/>
<circle cx="224.3" cy="2337" r="10.4" fill="#4da6ff"/>
<circle cx="256.9" cy="2331.4" r="10.4" fill="#4da6ff"/>
<circle cx="302.5" cy="2325.7" r="10.4" fill="#4da6ff"/>
<circle cx="348" cy="2323" r="10.4" fill="#4da6ff"/>
<circle cx="393.6" cy="2330" r="10.4" fill="#4da6ff"/>
<circle cx="439.2" cy="2314" r="10.4" fill="#4da6ff"/>
<circle cx="484.8" cy="2309" r="10.4" fill="#4da6ff"/>
<circle cx="530.4" cy="2312" r="10.4" fill="#4da6ff"/>
<circle cx="576" cy="2310.9" r="10.4" fill="#4da6ff"/>
<circle cx="628.1" cy="2328.6" r="10.4" fill="#4da6ff"/>
<circle cx="667.1" cy="2332.3" r="10.4" fill="#4da6ff"/>
<circle cx="712.7" cy="2333.4" r="10.4" fill="#4da6ff"/>
<circle cx="758.3" cy="2327" r="10.4" fill="#4da6ff"/>
<circle cx="810.4" cy="2327.7" r="10.4" fill="#4da6ff"/>
<circle cx="856" cy="2325.7" r="10.4" fill="#4da6ff"/>
<circle cx="908.1" cy="2327.7" r="10.4" fill="#4da6ff"/>
<circle cx="953.7" cy="2322.3" r="10.4" fill="#4da6ff"/>
<circle cx="1044.8" cy="2323" r="10.4" fill="#4da6ff"/>
<circle cx="1136" cy="2322.9" r="10.4" fill="#4da6ff"/>
<circle cx="1227.2" cy="2328.6" r="10.4" fill="#4da6ff"/>
<circle cx="1298.8" cy="2328.6" r="10.4" fill="#4da6ff"/>
<circle cx="1390" cy="2328.6" r="10.4" fill="#4da6ff"/>
<circle cx="1448.6" cy="2327" r="10.4" fill="#4da6ff"/>
<circle cx="1494.2" cy="2330.6" r="10.4" fill="#4da6ff"/>
<circle cx="1539.7" cy="2330.6" r="10.4" fill="#4da6ff"/>
<circle cx="1591.8" cy="2322.9" r="10.4" fill="#4da6ff"/>
<circle cx="1611.4" cy="2308.6" r="10.4" fill="#4da6ff"/>
<circle cx="1630.9" cy="2310" r="10.4" fill="#4da6ff"/>
<circle cx="1663.5" cy="2324.9" r="10.4" fill="#4da6ff"/>
<circle cx="1709.1" cy="2271.4" r="10.4" fill="#4da6ff"/>
<circle cx="1754.6" cy="2287" r="10.4" fill="#4da6ff"/>
<circle cx="1852.3" cy="2314.3" r="10.4" fill="#4da6ff"/>
<circle cx="1884.9" cy="2302.3" r="10.4" fill="#4da6ff"/>
<path d="M165.7 2323.6V2333.6M158.6 2323.6h14.2M158.6 2333.6h14.2M178.7 2315.4V2327.4M171.6 2315.4h14.2M171.6 2327.4h14.2M198.3 2303V2327M191.2 2303h14.2M191.2 2327h14.2M224.3 2317V2327M217.2 2317h14.2M217.2 2327h14.2M256.9 2315.6V2325.6M249.8 2315.6h14.2M249.8 2325.6h14.2M302.5 2298.6V2324.2M295.4 2298.6h14.2M295.4 2324.2h14.2M348 2277.7V2312.3M340.9 2277.7h14.2M340.9 2312.3h14.2M393.6 2227.6V2302.4M386.5 2227.6h14.2M386.5 2302.4h14.2M439.2 2197.7V2282.3M432.1 2197.7h14.2M432.1 2282.3h14.2M484.8 2068V2226M477.7 2068h14.2M477.7 2226h14.2M530.4 2064.3V2224.3M523.3 2064.3h14.2M523.3 2224.3h14.2M576 2023.6V2190.4M568.9 2023.6h14.2M568.9 2190.4h14.2M628.1 2049.3V2163.3M621 2049.3h14.2M621 2163.3h14.2M667.1 2052.8V2238.6M660 2052.8h14.2M660 2238.6h14.2M712.7 2081.4V2171.2M705.6 2081.4h14.2M705.6 2171.2h14.2M758.3 2063.4V2165.2M751.2 2063.4h14.2M751.2 2165.2h14.2M810.4 1942.4V2160.4M803.3 1942.4h14.2M803.3 2160.4h14.2M856 2000.7V2150.7M848.9 2000.7h14.2M848.9 2150.7h14.2M908.1 1994.9V2202.3M901 1994.9h14.2M901 2202.3h14.2M953.7 2060V2165.8M946.6 2060h14.2M946.6 2165.8h14.2M1044.8 2023.6V2169.6M1037.7 2023.6h14.2M1037.7 2169.6h14.2M1136 2117.1V2234.3M1128.9 2117.1h14.2M1128.9 2234.3h14.2M1227.2 2138.7V2252.7M1220.1 2138.7h14.2M1220.1 2252.7h14.2M1298.8 2139.3V2250.7M1291.7 2139.3h14.2M1291.7 2250.7h14.2M1390 2121.6V2235.6M1382.9 2121.6h14.2M1382.9 2235.6h14.2M1448.6 2155.7V2261.5M1441.5 2155.7h14.2M1441.5 2261.5h14.2M1494.2 2250V2295.8M1487.1 2250h14.2M1487.1 2295.8h14.2M1539.7 2228V2280.6M1532.6 2228h14.2M1532.6 2280.6h14.2M1591.8 2220V2291.4M1584.7 2220h14.2M1584.7 2291.4h14.2M1611.4 2230.8V2288M1604.3 2230.8h14.2M1604.3 2288h14.2M1630.9 2212.9V2272.9M1623.8 2212.9h14.2M1623.8 2272.9h14.2M1663.5 2153.6V2296.4M1656.4 2153.6h14.2M1656.4 2296.4h14.2M1709.1 2032.3V2172.3M1702 2032.3h14.2M1702 2172.3h14.2M1754.6 2000V2257.2M1747.5 2000h14.2M1747.5 2257.2h14.2M1852.3 2079.4V2203.4M1845.2 2079.4h14.2M1845.2 2203.4h14.2M1884.9 2072.8V2230M1877.8 2072.8h14.2M1877.8 2230h14.2" stroke="#000" stroke-width="3.3" fill="none"/>
<polyline points="165.7,2328.6 178.7,2321.4 198.3,2315 224.3,2322 256.9,2320.6 302.5,2311.4 348,2295 393.6,2265 439.2,2240 484.8,2147 530.4,2144.3 576,2107 628.1,2106.3 667.1,2145.7 712.7,2126.3 758.3,2114.3 810.4,2051.4 856,2075.7 908.1,2098.6 953.7,2112.9 1044.8,2096.6 1136,2175.7 1227.2,2195.7 1298.8,2195 1390,2178.6 1448.6,2208.6 1494.2,2272.9 1539.7,2254.3 1591.8,2255.7 1611.4,2259.4 1630.9,2242.9 1663.5,2225 1709.1,2102.3 1754.6,2128.6 1852.3,2141.4 1884.9,2151.4" fill="none" stroke="#0568da" stroke-width="6.4" stroke-linejoin="round"/>
<circle cx="165.7" cy="2328.6" r="10.4" fill="#0568da"/>
<circle cx="178.7" cy="2321.4" r="10.4" fill="#0568da"/>
<circle cx="198.3" cy="2315" r="10.4" fill="#0568da"/>
<circle cx="224.3" cy="2322" r="10.4" fill="#0568da"/>
<circle cx="256.9" cy="2320.6" r="10.4" fill="#0568da"/>
<circle cx="302.5" cy="2311.4" r="10.4" fill="#0568da"/>
<circle cx="348" cy="2295" r="10.4" fill="#0568da"/>
<circle cx="393.6" cy="2265" r="10.4" fill="#0568da"/>
<circle cx="439.2" cy="2240" r="10.4" fill="#0568da"/>
<circle cx="484.8" cy="2147" r="10.4" fill="#0568da"/>
<circle cx="530.4" cy="2144.3" r="10.4" fill="#0568da"/>
<circle cx="576" cy="2107" r="10.4" fill="#0568da"/>
<circle cx="628.1" cy="2106.3" r="10.4" fill="#0568da"/>
<circle cx="667.1" cy="2145.7" r="10.4" fill="#0568da"/>
<circle cx="712.7" cy="2126.3" r="10.4" fill="#0568da"/>
<circle cx="758.3" cy="2114.3" r="10.4" fill="#0568da"/>
<circle cx="810.4" cy="2051.4" r="10.4" fill="#0568da"/>
<circle cx="856" cy="2075.7" r="10.4" fill="#0568da"/>
<circle cx="908.1" cy="2098.6" r="10.4" fill="#0568da"/>
<circle cx="953.7" cy="2112.9" r="10.4" fill="#0568da"/>
<circle cx="1044.8" cy="2096.6" r="10.4" fill="#0568da"/>
<circle cx="1136" cy="2175.7" r="10.4" fill="#0568da"/>
<circle cx="1227.2" cy="2195.7" r="10.4" fill="#0568da"/>
<circle cx="1298.8" cy="2195" r="10.4" fill="#0568da"/>
<circle cx="1390" cy="2178.6" r="10.4" fill="#0568da"/>
<circle cx="1448.6" cy="2208.6" r="10.4" fill="#0568da"/>
<circle cx="1494.2" cy="2272.9" r="10.4" fill="#0568da"/>
<circle cx="1539.7" cy="2254.3" r="10.4" fill="#0568da"/>
<circle cx="1591.8" cy="2255.7" r="10.4" fill="#0568da"/>
<circle cx="1611.4" cy="2259.4" r="10.4" fill="#0568da"/>
<circle cx="1630.9" cy="2242.9" r="10.4" fill="#0568da"/>
<circle cx="1663.5" cy="2225" r="10.4" fill="#0568da"/>
<circle cx="1709.1" cy="2102.3" r="10.4" fill="#0568da"/>
<circle cx="1754.6" cy="2128.6" r="10.4" fill="#0568da"/>
<circle cx="1852.3" cy="2141.4" r="10.4" fill="#0568da"/>
<circle cx="1884.9" cy="2151.4" r="10.4" fill="#0568da"/>
<rect x="370" y="1708.3" width="1.6" height="1.6" fill="#555"/><rect x="1270.5" y="1706.5" width="1.6" height="1.6" fill="#555"/>
</svg>
</body></html>
